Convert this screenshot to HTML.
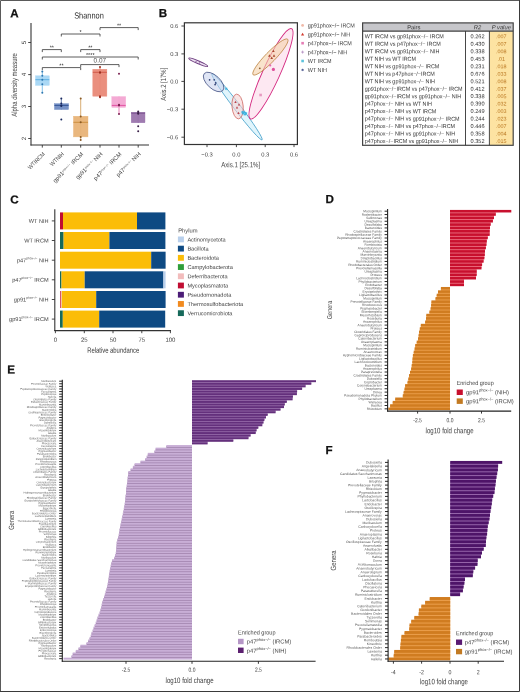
<!DOCTYPE html>
<html><head><meta charset="utf-8"><style>html,body{margin:0;padding:0;background:#fff;width:520px;height:692px;overflow:hidden}svg{display:block;will-change:transform}</style></head><body>
<svg width="520" height="692" viewBox="0 0 520 692" text-rendering="geometricPrecision" font-family='"Liberation Sans", sans-serif'>
<rect x="0.00" y="0.00" width="520.00" height="692.00" fill="#fff" />
<text x="10.20" y="17.20" font-size="11.6" fill="#111" text-anchor="start" font-weight="bold" transform="rotate(0.05 10.20 17.20)" stroke="#111" stroke-width="0.25">A</text>
<text x="158.70" y="17.00" font-size="11.6" fill="#111" text-anchor="start" font-weight="bold" transform="rotate(0.05 158.70 17.00)" stroke="#111" stroke-width="0.25">B</text>
<text x="10.20" y="203.40" font-size="11.6" fill="#111" text-anchor="start" font-weight="bold" transform="rotate(0.05 10.20 203.40)" stroke="#111" stroke-width="0.25">C</text>
<text x="325.60" y="203.00" font-size="11.6" fill="#111" text-anchor="start" font-weight="bold" transform="rotate(0.05 325.60 203.00)" stroke="#111" stroke-width="0.25">D</text>
<text x="7.30" y="373.60" font-size="11.6" fill="#111" text-anchor="start" font-weight="bold" transform="rotate(0.05 7.30 373.60)" stroke="#111" stroke-width="0.25">E</text>
<text x="325.50" y="453.90" font-size="11.6" fill="#111" text-anchor="start" font-weight="bold" transform="rotate(0.05 325.50 453.90)" stroke="#111" stroke-width="0.25">F</text>
<line x1="31.00" y1="23.00" x2="31.00" y2="145.50" stroke="#333" stroke-width="1.1" />
<line x1="30.50" y1="145.00" x2="149.00" y2="145.00" stroke="#333" stroke-width="1.1" />
<line x1="28.20" y1="42.50" x2="31.00" y2="42.50" stroke="#333" stroke-width="0.9" />
<text x="25.70" y="42.50" font-size="6.2" fill="#444" text-anchor="middle" transform="rotate(-90 25.70 42.50)" >5</text>
<line x1="28.20" y1="74.60" x2="31.00" y2="74.60" stroke="#333" stroke-width="0.9" />
<text x="25.70" y="74.60" font-size="6.2" fill="#444" text-anchor="middle" transform="rotate(-90 25.70 74.60)" >4</text>
<line x1="28.20" y1="106.50" x2="31.00" y2="106.50" stroke="#333" stroke-width="0.9" />
<text x="25.70" y="106.50" font-size="6.2" fill="#444" text-anchor="middle" transform="rotate(-90 25.70 106.50)" >3</text>
<line x1="28.20" y1="138.50" x2="31.00" y2="138.50" stroke="#333" stroke-width="0.9" />
<text x="25.70" y="138.50" font-size="6.2" fill="#444" text-anchor="middle" transform="rotate(-90 25.70 138.50)" >2</text>
<text x="74.20" y="18.60" font-size="8.8" fill="#2a2a2a" text-anchor="start" textLength="29.6" lengthAdjust="spacingAndGlyphs" transform="rotate(0.05 74.20 18.60)" >Shannon</text>
<text x="17.30" y="85.00" font-size="7.8" fill="#444" text-anchor="middle" textLength="63.5" lengthAdjust="spacingAndGlyphs" transform="rotate(-90 17.30 85.00)" >Alpha diversity measure</text>
<line x1="42.30" y1="145.00" x2="42.30" y2="147.60" stroke="#333" stroke-width="0.9" />
<line x1="61.30" y1="145.00" x2="61.30" y2="147.60" stroke="#333" stroke-width="0.9" />
<line x1="80.70" y1="145.00" x2="80.70" y2="147.60" stroke="#333" stroke-width="0.9" />
<line x1="100.00" y1="145.00" x2="100.00" y2="147.60" stroke="#333" stroke-width="0.9" />
<line x1="119.00" y1="145.00" x2="119.00" y2="147.60" stroke="#333" stroke-width="0.9" />
<line x1="138.20" y1="145.00" x2="138.20" y2="147.60" stroke="#333" stroke-width="0.9" />
<text x="45.30" y="154.50" font-size="5.8" fill="#444" text-anchor="end" textLength="21.45" lengthAdjust="spacingAndGlyphs" transform="rotate(-45 45.30 154.50)" >WTIRCM</text>
<text x="64.30" y="154.50" font-size="5.8" fill="#444" text-anchor="end" textLength="17.11" lengthAdjust="spacingAndGlyphs" transform="rotate(-45 64.30 154.50)" >WTNIH</text>
<text x="83.70" y="154.50" font-size="5.8" fill="#444" text-anchor="end" transform="rotate(-45 83.70 154.50)" >gp91<tspan font-size="3" dy="-2">phox−/−</tspan><tspan dy="2"> IRCM</tspan></text>
<text x="103.00" y="154.50" font-size="5.8" fill="#444" text-anchor="end" transform="rotate(-45 103.00 154.50)" >gp91<tspan font-size="3" dy="-2">phox−/−</tspan><tspan dy="2"> NIH</tspan></text>
<text x="122.00" y="154.50" font-size="5.8" fill="#444" text-anchor="end" transform="rotate(-45 122.00 154.50)" >p47<tspan font-size="3" dy="-2">phox−/−</tspan><tspan dy="2"> IRCM</tspan></text>
<text x="141.20" y="154.50" font-size="5.8" fill="#444" text-anchor="end" transform="rotate(-45 141.20 154.50)" >p47<tspan font-size="3" dy="-2">phox−/−</tspan><tspan dy="2"> NIH</tspan></text>
<line x1="42.30" y1="71.50" x2="42.30" y2="92.80" stroke="#52a9e0" stroke-width="0.7" />
<rect x="35.40" y="75.80" width="13.90" height="9.60" fill="#a6d6f5" stroke="#a6d6f5" stroke-width="0.4" opacity="0.95"/>
<line x1="35.40" y1="79.70" x2="49.30" y2="79.70" stroke="#52a9e0" stroke-width="0.9" />
<circle cx="42.30" cy="71.50" r="1.0" fill="#2f78b0"/>
<circle cx="42.30" cy="75.80" r="1.0" fill="#2f78b0"/>
<circle cx="42.30" cy="79.70" r="1.0" fill="#2f78b0"/>
<circle cx="42.30" cy="84.30" r="1.0" fill="#2f78b0"/>
<circle cx="42.30" cy="92.80" r="1.0" fill="#2f78b0"/>
<line x1="61.30" y1="98.40" x2="61.30" y2="109.60" stroke="#2f4f90" stroke-width="0.7" />
<rect x="54.40" y="103.60" width="14.20" height="6.00" fill="#6f8cc4" stroke="#6f8cc4" stroke-width="0.4" opacity="0.95"/>
<line x1="54.40" y1="105.40" x2="68.60" y2="105.40" stroke="#2f4f90" stroke-width="0.9" />
<circle cx="61.30" cy="98.40" r="1.0" fill="#1a2a60"/>
<circle cx="61.30" cy="103.60" r="1.0" fill="#1a2a60"/>
<circle cx="61.30" cy="105.40" r="1.0" fill="#1a2a60"/>
<circle cx="61.30" cy="105.90" r="1.0" fill="#1a2a60"/>
<circle cx="61.30" cy="119.50" r="1.0" fill="#1a2a60"/>
<line x1="80.70" y1="98.50" x2="80.70" y2="140.00" stroke="#c98a3a" stroke-width="0.7" />
<rect x="73.40" y="116.20" width="14.60" height="20.70" fill="#e8b478" stroke="#e8b478" stroke-width="0.4" opacity="0.95"/>
<line x1="73.40" y1="122.30" x2="88.00" y2="122.30" stroke="#c98a3a" stroke-width="0.9" />
<circle cx="80.70" cy="98.50" r="1.0" fill="#8a5a24"/>
<circle cx="80.70" cy="116.50" r="1.0" fill="#8a5a24"/>
<circle cx="80.70" cy="122.30" r="1.0" fill="#8a5a24"/>
<circle cx="80.70" cy="136.90" r="1.0" fill="#8a5a24"/>
<circle cx="80.70" cy="140.00" r="1.0" fill="#8a5a24"/>
<line x1="100.00" y1="67.00" x2="100.00" y2="97.20" stroke="#cf5545" stroke-width="0.7" />
<rect x="92.80" y="69.20" width="14.10" height="27.00" fill="#e98a78" stroke="#e98a78" stroke-width="0.4" opacity="0.95"/>
<line x1="92.80" y1="72.30" x2="106.90" y2="72.30" stroke="#cf5545" stroke-width="0.9" />
<circle cx="100.00" cy="67.00" r="1.0" fill="#9a3020"/>
<circle cx="100.00" cy="72.30" r="1.0" fill="#9a3020"/>
<circle cx="100.00" cy="72.80" r="1.0" fill="#9a3020"/>
<circle cx="100.00" cy="96.20" r="1.0" fill="#9a3020"/>
<circle cx="100.00" cy="97.20" r="1.0" fill="#9a3020"/>
<line x1="119.00" y1="96.60" x2="119.00" y2="114.00" stroke="#e0489c" stroke-width="0.7" />
<rect x="111.80" y="96.60" width="13.90" height="10.80" fill="#f4a6d2" stroke="#f4a6d2" stroke-width="0.4" opacity="0.95"/>
<line x1="111.80" y1="105.40" x2="125.70" y2="105.40" stroke="#e0489c" stroke-width="0.9" />
<circle cx="119.00" cy="73.80" r="1.0" fill="#7a2050"/>
<circle cx="119.00" cy="104.80" r="1.0" fill="#7a2050"/>
<circle cx="119.00" cy="105.40" r="1.0" fill="#7a2050"/>
<circle cx="119.00" cy="114.00" r="1.0" fill="#7a2050"/>
<line x1="138.20" y1="111.00" x2="138.20" y2="122.80" stroke="#6a3c80" stroke-width="0.7" />
<rect x="131.20" y="112.60" width="13.80" height="10.20" fill="#9a74ac" stroke="#9a74ac" stroke-width="0.4" opacity="0.95"/>
<line x1="131.20" y1="113.00" x2="145.00" y2="113.00" stroke="#6a3c80" stroke-width="0.9" />
<circle cx="138.20" cy="111.50" r="1.0" fill="#3a2048"/>
<circle cx="138.20" cy="113.00" r="1.0" fill="#3a2048"/>
<circle cx="138.20" cy="113.80" r="1.0" fill="#3a2048"/>
<circle cx="138.20" cy="126.30" r="1.0" fill="#3a2048"/>
<circle cx="138.20" cy="131.20" r="1.0" fill="#3a2048"/>
<path d="M100.00 30.10V27.60H138.20V30.10" fill="none" stroke="#333" stroke-width="0.8"/>
<text x="119.10" y="27.30" font-size="5.5" fill="#222" text-anchor="middle" transform="rotate(0.05 119.10 27.30)" >**</text>
<path d="M61.30 36.50V34.00H100.00V36.50" fill="none" stroke="#333" stroke-width="0.8"/>
<text x="80.65" y="33.70" font-size="5.5" fill="#222" text-anchor="middle" transform="rotate(0.05 80.65 33.70)" >*</text>
<path d="M42.30 52.10V49.60H61.30V52.10" fill="none" stroke="#333" stroke-width="0.8"/>
<text x="51.80" y="49.30" font-size="5.5" fill="#222" text-anchor="middle" transform="rotate(0.05 51.80 49.30)" >**</text>
<path d="M80.70 52.10V49.60H100.00V52.10" fill="none" stroke="#333" stroke-width="0.8"/>
<text x="90.35" y="49.30" font-size="5.5" fill="#222" text-anchor="middle" transform="rotate(0.05 90.35 49.30)" >**</text>
<path d="M42.30 59.50V57.00H138.20V59.50" fill="none" stroke="#333" stroke-width="0.8"/>
<text x="90.25" y="56.70" font-size="5.5" fill="#222" text-anchor="middle" transform="rotate(0.05 90.25 56.70)" >****</text>
<path d="M80.70 67.10V64.60H119.00V67.10" fill="none" stroke="#333" stroke-width="0.8"/>
<text x="99.85" y="62.60" font-size="6.4" fill="#555" text-anchor="middle" transform="rotate(0.05 99.85 62.60)" >0.07</text>
<path d="M42.30 70.10V67.60H80.70V70.10" fill="none" stroke="#333" stroke-width="0.8"/>
<text x="61.50" y="67.30" font-size="5.5" fill="#222" text-anchor="middle" transform="rotate(0.05 61.50 67.30)" >**</text>
<rect x="184.4" y="22.8" width="112.99999999999997" height="121.7" fill="none" stroke="#333" stroke-width="1.2"/>
<line x1="181.40" y1="26.00" x2="184.40" y2="26.00" stroke="#333" stroke-width="0.9" />
<text x="178.20" y="28.10" font-size="5.8" fill="#444" text-anchor="end" transform="rotate(0.05 178.20 28.10)" >0.6</text>
<line x1="181.40" y1="53.90" x2="184.40" y2="53.90" stroke="#333" stroke-width="0.9" />
<text x="178.20" y="56.00" font-size="5.8" fill="#444" text-anchor="end" transform="rotate(0.05 178.20 56.00)" >0.3</text>
<line x1="181.40" y1="81.40" x2="184.40" y2="81.40" stroke="#333" stroke-width="0.9" />
<text x="178.20" y="83.50" font-size="5.8" fill="#444" text-anchor="end" transform="rotate(0.05 178.20 83.50)" >0.0</text>
<line x1="181.40" y1="109.20" x2="184.40" y2="109.20" stroke="#333" stroke-width="0.9" />
<text x="178.20" y="111.30" font-size="5.8" fill="#444" text-anchor="end" transform="rotate(0.05 178.20 111.30)" >−0.3</text>
<line x1="181.40" y1="137.20" x2="184.40" y2="137.20" stroke="#333" stroke-width="0.9" />
<text x="178.20" y="139.30" font-size="5.8" fill="#444" text-anchor="end" transform="rotate(0.05 178.20 139.30)" >−0.6</text>
<line x1="207.00" y1="144.50" x2="207.00" y2="147.10" stroke="#333" stroke-width="0.9" />
<text x="207.00" y="156.60" font-size="5.8" fill="#444" text-anchor="middle" transform="rotate(0.05 207.00 156.60)" >−0.3</text>
<line x1="236.40" y1="144.50" x2="236.40" y2="147.10" stroke="#333" stroke-width="0.9" />
<text x="236.40" y="156.60" font-size="5.8" fill="#444" text-anchor="middle" transform="rotate(0.05 236.40 156.60)" >0.0</text>
<line x1="265.20" y1="144.50" x2="265.20" y2="147.10" stroke="#333" stroke-width="0.9" />
<text x="265.20" y="156.60" font-size="5.8" fill="#444" text-anchor="middle" transform="rotate(0.05 265.20 156.60)" >0.3</text>
<line x1="294.00" y1="144.50" x2="294.00" y2="147.10" stroke="#333" stroke-width="0.9" />
<text x="294.00" y="156.60" font-size="5.8" fill="#444" text-anchor="middle" transform="rotate(0.05 294.00 156.60)" >0.6</text>
<text x="240.70" y="167.20" font-size="7.6" fill="#444" text-anchor="middle" textLength="39" lengthAdjust="spacingAndGlyphs" transform="rotate(0.05 240.70 167.20)" >Axis.1 [25.1%]</text>
<text x="166.00" y="84.20" font-size="7.6" fill="#444" text-anchor="middle" textLength="33" lengthAdjust="spacingAndGlyphs" transform="rotate(-90 166.00 84.20)" >Axis.2 [17%]</text>
<ellipse cx="237.0" cy="106.8" rx="41.5" ry="3.3" transform="rotate(52.8 237.0 106.8)" fill="#cdeefa" fill-opacity="0.6" stroke="#4aa3cc" stroke-width="0.8"/>
<ellipse cx="271.0" cy="73.8" rx="49.6" ry="8.6" transform="rotate(-65.5 271.0 73.8)" fill="#fbd8ea" fill-opacity="0.6" stroke="#d42a80" stroke-width="0.9"/>
<ellipse cx="270.4" cy="57.0" rx="24.8" ry="5.0" transform="rotate(-45.8 270.4 57.0)" fill="#f5d2aa" fill-opacity="0.6" stroke="#c08a4a" stroke-width="0.8"/>
<ellipse cx="213.6" cy="82.0" rx="12.6" ry="6.5" transform="rotate(42.6 213.6 82.0)" fill="#cad3ee" fill-opacity="0.6" stroke="#4a5888" stroke-width="0.8"/>
<ellipse cx="237.6" cy="106.5" rx="12.4" ry="5.6" transform="rotate(85.0 237.6 106.5)" fill="#f6d4d4" fill-opacity="0.6" stroke="#cf6a66" stroke-width="0.8"/>
<ellipse cx="198.2" cy="62.3" rx="10.3" ry="1.4" transform="rotate(23.3 198.2 62.3)" fill="#e0cce8" fill-opacity="0.6" stroke="#6e3e80" stroke-width="1.05"/>
<path d="M195.4 61.6H196.6M196 61.0V62.2" stroke="#8a5a98" stroke-width="0.6"/>
<path d="M198.9 63.0H200.1M199.5 62.4V63.6" stroke="#8a5a98" stroke-width="0.6"/>
<circle cx="209.6" cy="79.8" r="0.85" fill="#2d3c70"/>
<circle cx="214.2" cy="79.8" r="0.85" fill="#2d3c70"/>
<circle cx="215.7" cy="82.9" r="0.85" fill="#2d3c70"/>
<circle cx="215.1" cy="84.6" r="0.85" fill="#2d3c70"/>
<path d="M224.89999999999998 88.8H227.5M226.2 87.5V90.1M225.29 87.89L227.10999999999999 89.71M225.29 89.71L227.10999999999999 87.89" stroke="#34aede" stroke-width="0.6"/>
<path d="M241.7 113.5H244.3M243.0 112.2V114.8M242.09 112.59L243.91 114.41M242.09 114.41L243.91 112.59" stroke="#34aede" stroke-width="0.6"/>
<path d="M243.7 114.5H246.3M245.0 113.2V115.8M244.09 113.59L245.91 115.41M244.09 115.41L245.91 113.59" stroke="#34aede" stroke-width="0.6"/>
<path d="M242.89999999999998 112.4H245.5M244.2 111.10000000000001V113.7M243.29 111.49000000000001L245.10999999999999 113.31M243.29 113.31L245.10999999999999 111.49000000000001" stroke="#34aede" stroke-width="0.6"/>
<path d="M244.7 113.2H247.3M246.0 111.9V114.5M245.09 112.29L246.91 114.11M245.09 114.11L246.91 112.29" stroke="#34aede" stroke-width="0.6"/>
<path d="M241.2 112.0H243.8M242.5 110.7V113.3M241.59 111.09L243.41 112.91M241.59 112.91L243.41 111.09" stroke="#34aede" stroke-width="0.6"/>
<path d="M235.5 100.8L236.7 102.96H234.3Z" fill="#b8404a"/>
<path d="M239.0 103.3L240.2 105.46H237.8Z" fill="#b8404a"/>
<path d="M237.0 106.3L238.2 108.46H235.8Z" fill="#b8404a"/>
<path d="M238.5 111.8L239.7 113.96H237.3Z" fill="#b8404a"/>
<path d="M273.4 49.7L274.7 52.04H272.09999999999997Z" fill="#a8452a"/>
<path d="M269.4 54.300000000000004L270.7 56.64H268.09999999999997Z" fill="#a8452a"/>
<path d="M274.0 54.300000000000004L275.3 56.64H272.7Z" fill="#a8452a"/>
<path d="M271.7 56.6L273.0 58.94H270.4Z" fill="#a8452a"/>
<circle cx="259.8" cy="68.3" r="0.9" fill="#8a5a30"/>
<circle cx="273.4" cy="69.4" r="1.6" fill="#de4f9a"/>
<rect x="259.3" y="93.7" width="2.6" height="2.6" fill="#e69ac0"/>
<circle cx="270.2" cy="65.4" r="1.1" fill="#e46aa8"/>
<circle cx="302.6" cy="25.4" r="1.4" fill="#f0b9a8"/>
<text x="307.80" y="27.50" font-size="6.0" fill="#3a3a3a" text-anchor="start" textLength="46.99" lengthAdjust="spacingAndGlyphs" transform="rotate(0.05 307.80 27.50)" >gp91phox−/− IRCM</text>
<path d="M302.6 32.699999999999996L304.20000000000005 35.58H301.0Z" fill="#d23a2e"/>
<text x="307.80" y="36.40" font-size="6.0" fill="#3a3a3a" text-anchor="start" textLength="42.47" lengthAdjust="spacingAndGlyphs" transform="rotate(0.05 307.80 36.40)" >gp91phox−/− NIH</text>
<rect x="301.3" y="41.900000000000006" width="2.6" height="2.6" fill="#e57db5"/>
<text x="307.80" y="45.30" font-size="6.0" fill="#3a3a3a" text-anchor="start" textLength="43.97" lengthAdjust="spacingAndGlyphs" transform="rotate(0.05 307.80 45.30)" >p47phox−/− IRCM</text>
<path d="M301.1 52.1H304.1M302.6 50.6V53.6" stroke="#a070b0" stroke-width="0.6"/>
<text x="307.80" y="54.20" font-size="6.0" fill="#3a3a3a" text-anchor="start" textLength="39.46" lengthAdjust="spacingAndGlyphs" transform="rotate(0.05 307.80 54.20)" >p47phox−/− NIH</text>
<rect x="301.3" y="59.7" width="2.6" height="2.6" fill="#5cc3dc"/>
<text x="307.80" y="63.10" font-size="6.0" fill="#3a3a3a" text-anchor="start" textLength="23.67" lengthAdjust="spacingAndGlyphs" transform="rotate(0.05 307.80 63.10)" >WT IRCM</text>
<path d="M301.40000000000003 69.9H303.8M302.6 68.7V71.10000000000001M301.76000000000005 69.06L303.44 70.74000000000001M301.76000000000005 70.74000000000001L303.44 69.06" stroke="#3b4a86" stroke-width="0.6"/>
<text x="307.80" y="72.00" font-size="6.0" fill="#3a3a3a" text-anchor="start" textLength="19.16" lengthAdjust="spacingAndGlyphs" transform="rotate(0.05 307.80 72.00)" >WT NIH</text>
<rect x="362.60" y="22.90" width="150.60" height="8.40" fill="#c6c6ca" />
<rect x="489.60" y="31.30" width="23.60" height="114.00" fill="#fde3a2" />
<rect x="362.6" y="22.9" width="150.60000000000002" height="122.4" fill="none" stroke="#444" stroke-width="1.2"/>
<line x1="362.60" y1="31.10" x2="513.20" y2="31.10" stroke="#444" stroke-width="1.1" />
<line x1="465.50" y1="31.10" x2="465.50" y2="145.30" stroke="#333" stroke-width="0.9" />
<line x1="489.40" y1="31.10" x2="489.40" y2="145.30" stroke="#333" stroke-width="0.9" />
<text x="413.80" y="29.30" font-size="5.8" fill="#333" text-anchor="middle" transform="rotate(0.05 413.80 29.30)" >Pairs</text>
<text x="477.50" y="29.30" font-size="5.8" fill="#333" text-anchor="middle" transform="rotate(0.05 477.50 29.30)" font-style="italic">R2</text>
<text x="501.30" y="29.30" font-size="5.8" fill="#333" text-anchor="middle" transform="rotate(0.05 501.30 29.30)" font-style="italic">P value</text>
<text x="364.80" y="38.30" font-size="5.7" fill="#333" text-anchor="start" textLength="79.04" lengthAdjust="spacingAndGlyphs" transform="rotate(0.05 364.80 38.30)" >WT IRCM vs gp91phox−/− IRCM</text>
<text x="477.60" y="38.30" font-size="5.6" fill="#333" text-anchor="middle" transform="rotate(0.05 477.60 38.30)" >0.262</text>
<text x="501.30" y="38.30" font-size="5.4" fill="#b8741e" text-anchor="middle" transform="rotate(0.05 501.30 38.30)" >.007</text>
<text x="364.80" y="45.78" font-size="5.7" fill="#333" text-anchor="start" textLength="76.03" lengthAdjust="spacingAndGlyphs" transform="rotate(0.05 364.80 45.78)" >WT IRCM vs p47phox−/− IRCM</text>
<text x="477.60" y="45.78" font-size="5.6" fill="#333" text-anchor="middle" transform="rotate(0.05 477.60 45.78)" >0.430</text>
<text x="501.30" y="45.78" font-size="5.4" fill="#b8741e" text-anchor="middle" transform="rotate(0.05 501.30 45.78)" >.007</text>
<text x="364.80" y="53.26" font-size="5.7" fill="#333" text-anchor="start" textLength="74.53" lengthAdjust="spacingAndGlyphs" transform="rotate(0.05 364.80 53.26)" >WT IRCM vs gp91phox−/− NIH</text>
<text x="477.60" y="53.26" font-size="5.6" fill="#333" text-anchor="middle" transform="rotate(0.05 477.60 53.26)" >0.338</text>
<text x="501.30" y="53.26" font-size="5.4" fill="#b8741e" text-anchor="middle" transform="rotate(0.05 501.30 53.26)" >.008</text>
<text x="364.80" y="60.74" font-size="5.7" fill="#333" text-anchor="start" textLength="51.24" lengthAdjust="spacingAndGlyphs" transform="rotate(0.05 364.80 60.74)" >WT NIH vs WT IRCM</text>
<text x="477.60" y="60.74" font-size="5.6" fill="#333" text-anchor="middle" transform="rotate(0.05 477.60 60.74)" >0.453</text>
<text x="501.30" y="60.74" font-size="5.4" fill="#b8741e" text-anchor="middle" transform="rotate(0.05 501.30 60.74)" >.01</text>
<text x="364.80" y="68.22" font-size="5.7" fill="#333" text-anchor="start" textLength="74.53" lengthAdjust="spacingAndGlyphs" transform="rotate(0.05 364.80 68.22)" >WT NIH vs gp91phox−/− IRCM</text>
<text x="477.60" y="68.22" font-size="5.6" fill="#333" text-anchor="middle" transform="rotate(0.05 477.60 68.22)" >0.231</text>
<text x="501.30" y="68.22" font-size="5.4" fill="#b8741e" text-anchor="middle" transform="rotate(0.05 501.30 68.22)" >.018</text>
<text x="364.80" y="75.70" font-size="5.7" fill="#333" text-anchor="start" textLength="70.02" lengthAdjust="spacingAndGlyphs" transform="rotate(0.05 364.80 75.70)" >WT NIH vs p47phox−/−IRCM</text>
<text x="477.60" y="75.70" font-size="5.6" fill="#333" text-anchor="middle" transform="rotate(0.05 477.60 75.70)" >0.676</text>
<text x="501.30" y="75.70" font-size="5.4" fill="#b8741e" text-anchor="middle" transform="rotate(0.05 501.30 75.70)" >.033</text>
<text x="364.80" y="83.18" font-size="5.7" fill="#333" text-anchor="start" textLength="70.02" lengthAdjust="spacingAndGlyphs" transform="rotate(0.05 364.80 83.18)" >WT NIH vs gp91phox−/− NIH</text>
<text x="477.60" y="83.18" font-size="5.6" fill="#333" text-anchor="middle" transform="rotate(0.05 477.60 83.18)" >0.521</text>
<text x="501.30" y="83.18" font-size="5.4" fill="#b8741e" text-anchor="middle" transform="rotate(0.05 501.30 83.18)" >.008</text>
<text x="364.80" y="90.66" font-size="5.7" fill="#333" text-anchor="start" textLength="97.83" lengthAdjust="spacingAndGlyphs" transform="rotate(0.05 364.80 90.66)" >gp91phox−/−IRCM vs p47phox−/− IRCM</text>
<text x="477.60" y="90.66" font-size="5.6" fill="#333" text-anchor="middle" transform="rotate(0.05 477.60 90.66)" >0.412</text>
<text x="501.30" y="90.66" font-size="5.4" fill="#b8741e" text-anchor="middle" transform="rotate(0.05 501.30 90.66)" >.037</text>
<text x="364.80" y="98.14" font-size="5.7" fill="#333" text-anchor="start" textLength="96.33" lengthAdjust="spacingAndGlyphs" transform="rotate(0.05 364.80 98.14)" >gp91phox−/−IRCM vs gp91phox−/− NIH</text>
<text x="477.60" y="98.14" font-size="5.6" fill="#333" text-anchor="middle" transform="rotate(0.05 477.60 98.14)" >0.338</text>
<text x="501.30" y="98.14" font-size="5.4" fill="#b8741e" text-anchor="middle" transform="rotate(0.05 501.30 98.14)" >.005</text>
<text x="364.80" y="105.62" font-size="5.7" fill="#333" text-anchor="start" textLength="67.01" lengthAdjust="spacingAndGlyphs" transform="rotate(0.05 364.80 105.62)" >p47phox−/− NIH vs WT NIH</text>
<text x="477.60" y="105.62" font-size="5.6" fill="#333" text-anchor="middle" transform="rotate(0.05 477.60 105.62)" >0.390</text>
<text x="501.30" y="105.62" font-size="5.4" fill="#b8741e" text-anchor="middle" transform="rotate(0.05 501.30 105.62)" >.032</text>
<text x="364.80" y="113.10" font-size="5.7" fill="#333" text-anchor="start" textLength="71.52" lengthAdjust="spacingAndGlyphs" transform="rotate(0.05 364.80 113.10)" >p47phox−/− NIH vs WT IRCM</text>
<text x="477.60" y="113.10" font-size="5.6" fill="#333" text-anchor="middle" transform="rotate(0.05 477.60 113.10)" >0.249</text>
<text x="501.30" y="113.10" font-size="5.4" fill="#b8741e" text-anchor="middle" transform="rotate(0.05 501.30 113.10)" >.003</text>
<text x="364.80" y="120.58" font-size="5.7" fill="#333" text-anchor="start" textLength="94.82" lengthAdjust="spacingAndGlyphs" transform="rotate(0.05 364.80 120.58)" >p47phox−/− NIH vs gp91phox−/− IRCM</text>
<text x="477.60" y="120.58" font-size="5.6" fill="#333" text-anchor="middle" transform="rotate(0.05 477.60 120.58)" >0.244</text>
<text x="501.30" y="120.58" font-size="5.4" fill="#b8741e" text-anchor="middle" transform="rotate(0.05 501.30 120.58)" >.023</text>
<text x="364.80" y="128.06" font-size="5.7" fill="#333" text-anchor="start" textLength="90.3" lengthAdjust="spacingAndGlyphs" transform="rotate(0.05 364.80 128.06)" >p47phox−/− NIH vs p47phox−/−IRCM</text>
<text x="477.60" y="128.06" font-size="5.6" fill="#333" text-anchor="middle" transform="rotate(0.05 477.60 128.06)" >0.446</text>
<text x="501.30" y="128.06" font-size="5.4" fill="#b8741e" text-anchor="middle" transform="rotate(0.05 501.30 128.06)" >.007</text>
<text x="364.80" y="135.54" font-size="5.7" fill="#333" text-anchor="start" textLength="90.31" lengthAdjust="spacingAndGlyphs" transform="rotate(0.05 364.80 135.54)" >p47phox−/− NIH vs gp91phox−/− NIH</text>
<text x="477.60" y="135.54" font-size="5.6" fill="#333" text-anchor="middle" transform="rotate(0.05 477.60 135.54)" >0.358</text>
<text x="501.30" y="135.54" font-size="5.4" fill="#b8741e" text-anchor="middle" transform="rotate(0.05 501.30 135.54)" >.004</text>
<text x="364.80" y="143.02" font-size="5.7" fill="#333" text-anchor="start" textLength="93.31" lengthAdjust="spacingAndGlyphs" transform="rotate(0.05 364.80 143.02)" >p47phox−/−IRCM vs gp91phox−/− NIH</text>
<text x="477.60" y="143.02" font-size="5.6" fill="#333" text-anchor="middle" transform="rotate(0.05 477.60 143.02)" >0.352</text>
<text x="501.30" y="143.02" font-size="5.4" fill="#b8741e" text-anchor="middle" transform="rotate(0.05 501.30 143.02)" >.015</text>
<line x1="54.80" y1="209.20" x2="54.80" y2="331.00" stroke="#333" stroke-width="1.1" />
<line x1="54.30" y1="330.60" x2="171.00" y2="330.60" stroke="#333" stroke-width="1.1" />
<line x1="55.40" y1="330.60" x2="55.40" y2="333.20" stroke="#333" stroke-width="0.9" />
<text x="55.40" y="341.70" font-size="6.0" fill="#444" text-anchor="middle" transform="rotate(0.05 55.40 341.70)" >0</text>
<line x1="84.30" y1="330.60" x2="84.30" y2="333.20" stroke="#333" stroke-width="0.9" />
<text x="84.30" y="341.70" font-size="6.0" fill="#444" text-anchor="middle" transform="rotate(0.05 84.30 341.70)" >25</text>
<line x1="113.00" y1="330.60" x2="113.00" y2="333.20" stroke="#333" stroke-width="0.9" />
<text x="113.00" y="341.70" font-size="6.0" fill="#444" text-anchor="middle" transform="rotate(0.05 113.00 341.70)" >50</text>
<line x1="141.80" y1="330.60" x2="141.80" y2="333.20" stroke="#333" stroke-width="0.9" />
<text x="141.80" y="341.70" font-size="6.0" fill="#444" text-anchor="middle" transform="rotate(0.05 141.80 341.70)" >75</text>
<line x1="170.40" y1="330.60" x2="170.40" y2="333.20" stroke="#333" stroke-width="0.9" />
<text x="170.40" y="341.70" font-size="6.0" fill="#444" text-anchor="middle" transform="rotate(0.05 170.40 341.70)" >100</text>
<text x="113.20" y="352.80" font-size="7.6" fill="#333" text-anchor="middle" textLength="52" lengthAdjust="spacingAndGlyphs" transform="rotate(0.05 113.20 352.80)" >Relative abundance</text>
<rect x="60.00" y="212.40" width="3.00" height="17.00" fill="#c00d32" />
<rect x="63.00" y="212.40" width="74.00" height="17.00" fill="#fbbd08" />
<rect x="137.00" y="212.40" width="28.40" height="17.00" fill="#0e4a83" />
<line x1="51.80" y1="220.90" x2="54.80" y2="220.90" stroke="#333" stroke-width="0.9" />
<text x="48.60" y="222.90" font-size="5.6" fill="#444" text-anchor="end" transform="rotate(0.05 48.60 222.90)" >WT NIH</text>
<rect x="60.00" y="232.00" width="3.60" height="17.00" fill="#16695a" />
<rect x="63.60" y="232.00" width="45.80" height="17.00" fill="#fbbd08" />
<rect x="109.40" y="232.00" width="56.00" height="17.00" fill="#0e4a83" />
<line x1="51.80" y1="240.50" x2="54.80" y2="240.50" stroke="#333" stroke-width="0.9" />
<text x="48.60" y="242.50" font-size="5.6" fill="#444" text-anchor="end" transform="rotate(0.05 48.60 242.50)" >WT IRCM</text>
<rect x="60.00" y="251.70" width="91.20" height="17.00" fill="#fbbd08" />
<rect x="151.20" y="251.70" width="14.40" height="17.00" fill="#0e4a83" />
<line x1="51.80" y1="260.20" x2="54.80" y2="260.20" stroke="#333" stroke-width="0.9" />
<text x="48.60" y="262.20" font-size="5.6" fill="#444" text-anchor="end" transform="rotate(0.05 48.60 262.20)" >p47<tspan font-size="3.1" dy="-2.8">phox−/−</tspan><tspan dy="2.8"> NIH</tspan></text>
<rect x="60.00" y="271.30" width="1.50" height="17.00" fill="#16695a" />
<rect x="61.50" y="271.30" width="23.20" height="17.00" fill="#fbbd08" />
<rect x="84.70" y="271.30" width="78.70" height="17.00" fill="#0e4a83" />
<rect x="163.40" y="271.30" width="2.20" height="17.00" fill="#b9d0ec" />
<line x1="51.80" y1="279.80" x2="54.80" y2="279.80" stroke="#333" stroke-width="0.9" />
<text x="48.60" y="281.80" font-size="5.6" fill="#444" text-anchor="end" transform="rotate(0.05 48.60 281.80)" >p47<tspan font-size="3.1" dy="-2.8">phox−/−</tspan><tspan dy="2.8"> IRCM</tspan></text>
<rect x="60.00" y="291.00" width="0.80" height="17.00" fill="#c00d32" />
<rect x="60.80" y="291.00" width="1.00" height="17.00" fill="#f2bcbc" />
<rect x="61.80" y="291.00" width="34.40" height="17.00" fill="#fbbd08" />
<rect x="96.20" y="291.00" width="69.40" height="17.00" fill="#0e4a83" />
<line x1="51.80" y1="299.50" x2="54.80" y2="299.50" stroke="#333" stroke-width="0.9" />
<text x="48.60" y="301.50" font-size="5.6" fill="#444" text-anchor="end" transform="rotate(0.05 48.60 301.50)" >gp91<tspan font-size="3.1" dy="-2.8">phox−/−</tspan><tspan dy="2.8"> NIH</tspan></text>
<rect x="60.00" y="310.60" width="2.80" height="17.00" fill="#16695a" />
<rect x="62.80" y="310.60" width="36.40" height="17.00" fill="#fbbd08" />
<rect x="99.20" y="310.60" width="66.00" height="17.00" fill="#0e4a83" />
<line x1="51.80" y1="319.10" x2="54.80" y2="319.10" stroke="#333" stroke-width="0.9" />
<text x="48.60" y="321.10" font-size="5.6" fill="#444" text-anchor="end" transform="rotate(0.05 48.60 321.10)" >gp91<tspan font-size="3.1" dy="-2.8">phox−/−</tspan><tspan dy="2.8"> IRCM</tspan></text>
<text x="178.20" y="232.40" font-size="5.8" fill="#444" text-anchor="start" transform="rotate(0.05 178.20 232.40)" >Phylum</text>
<rect x="177.90" y="236.50" width="6.00" height="5.80" fill="#b9d0ec" />
<text x="187.40" y="241.40" font-size="5.6" fill="#444" text-anchor="start" transform="rotate(0.05 187.40 241.40)" >Actinomycetota</text>
<rect x="177.90" y="245.72" width="6.00" height="5.80" fill="#0e4a83" />
<text x="187.40" y="250.62" font-size="5.6" fill="#444" text-anchor="start" transform="rotate(0.05 187.40 250.62)" >Bacillota</text>
<rect x="177.90" y="254.94" width="6.00" height="5.80" fill="#fbbd08" />
<text x="187.40" y="259.84" font-size="5.6" fill="#444" text-anchor="start" transform="rotate(0.05 187.40 259.84)" >Bacteroidota</text>
<rect x="177.90" y="264.16" width="6.00" height="5.80" fill="#2f9e3a" />
<text x="187.40" y="269.06" font-size="5.6" fill="#444" text-anchor="start" transform="rotate(0.05 187.40 269.06)" >Campylobacterota</text>
<rect x="177.90" y="273.38" width="6.00" height="5.80" fill="#f2bcbc" />
<text x="187.40" y="278.28" font-size="5.6" fill="#444" text-anchor="start" transform="rotate(0.05 187.40 278.28)" >Deferribacterota</text>
<rect x="177.90" y="282.60" width="6.00" height="5.80" fill="#c00d32" />
<text x="187.40" y="287.50" font-size="5.6" fill="#444" text-anchor="start" transform="rotate(0.05 187.40 287.50)" >Mycoplasmatota</text>
<rect x="177.90" y="291.82" width="6.00" height="5.80" fill="#4b1c77" />
<text x="187.40" y="296.72" font-size="5.6" fill="#444" text-anchor="start" transform="rotate(0.05 187.40 296.72)" >Pseudomonadota</text>
<rect x="177.90" y="301.04" width="6.00" height="5.80" fill="#f18a1f" />
<text x="187.40" y="305.94" font-size="5.6" fill="#444" text-anchor="start" transform="rotate(0.05 187.40 305.94)" >Thermosulfobacteriota</text>
<rect x="177.90" y="310.26" width="6.00" height="5.80" fill="#16695a" />
<text x="187.40" y="315.16" font-size="5.6" fill="#444" text-anchor="start" transform="rotate(0.05 187.40 315.16)" >Verrucomicrobiota</text>
<rect x="450.00" y="211.20" width="45.80" height="3.35" fill="#f07a8a" />
<rect x="450.00" y="214.55" width="44.00" height="3.35" fill="#f07a8a" />
<rect x="450.00" y="217.90" width="42.90" height="3.35" fill="#f07a8a" />
<rect x="450.00" y="221.25" width="40.70" height="3.35" fill="#f07a8a" />
<rect x="450.00" y="224.60" width="40.00" height="3.35" fill="#f07a8a" />
<rect x="450.00" y="227.95" width="39.70" height="3.35" fill="#f07a8a" />
<rect x="450.00" y="231.30" width="39.70" height="3.35" fill="#f07a8a" />
<rect x="450.00" y="234.65" width="37.80" height="3.35" fill="#f07a8a" />
<rect x="450.00" y="238.00" width="36.80" height="3.35" fill="#f07a8a" />
<rect x="450.00" y="241.35" width="36.50" height="3.35" fill="#f07a8a" />
<rect x="450.00" y="244.70" width="35.90" height="3.35" fill="#f07a8a" />
<rect x="450.00" y="248.05" width="35.00" height="3.35" fill="#f07a8a" />
<rect x="450.00" y="251.40" width="34.80" height="3.35" fill="#f07a8a" />
<rect x="450.00" y="254.75" width="34.40" height="3.35" fill="#f07a8a" />
<rect x="450.00" y="258.10" width="33.60" height="3.35" fill="#f07a8a" />
<rect x="450.00" y="261.45" width="32.10" height="3.35" fill="#f07a8a" />
<rect x="450.00" y="264.80" width="31.50" height="3.35" fill="#f07a8a" />
<rect x="450.00" y="268.15" width="26.70" height="3.35" fill="#f07a8a" />
<rect x="450.00" y="271.50" width="26.70" height="3.35" fill="#f07a8a" />
<rect x="450.00" y="274.85" width="26.00" height="3.35" fill="#f07a8a" />
<rect x="450.00" y="278.20" width="14.00" height="3.35" fill="#f07a8a" />
<rect x="450.00" y="281.55" width="14.00" height="3.35" fill="#f07a8a" />
<rect x="440.90" y="288.25" width="9.10" height="3.35" fill="#efa452" />
<rect x="438.00" y="291.60" width="12.00" height="3.35" fill="#efa452" />
<rect x="436.70" y="294.95" width="13.30" height="3.35" fill="#efa452" />
<rect x="435.50" y="298.30" width="14.50" height="3.35" fill="#efa452" />
<rect x="431.40" y="301.65" width="18.60" height="3.35" fill="#efa452" />
<rect x="431.10" y="305.00" width="18.90" height="3.35" fill="#efa452" />
<rect x="430.60" y="308.35" width="19.40" height="3.35" fill="#efa452" />
<rect x="429.40" y="311.70" width="20.60" height="3.35" fill="#efa452" />
<rect x="426.30" y="315.05" width="23.70" height="3.35" fill="#efa452" />
<rect x="426.00" y="318.40" width="24.00" height="3.35" fill="#efa452" />
<rect x="425.10" y="321.75" width="24.90" height="3.35" fill="#efa452" />
<rect x="420.80" y="325.10" width="29.20" height="3.35" fill="#efa452" />
<rect x="419.80" y="328.45" width="30.20" height="3.35" fill="#efa452" />
<rect x="419.00" y="331.80" width="31.00" height="3.35" fill="#efa452" />
<rect x="418.60" y="335.15" width="31.40" height="3.35" fill="#efa452" />
<rect x="418.00" y="338.50" width="32.00" height="3.35" fill="#efa452" />
<rect x="416.70" y="341.85" width="33.30" height="3.35" fill="#efa452" />
<rect x="415.20" y="345.20" width="34.80" height="3.35" fill="#efa452" />
<rect x="414.60" y="348.55" width="35.40" height="3.35" fill="#efa452" />
<rect x="413.70" y="351.90" width="36.30" height="3.35" fill="#efa452" />
<rect x="412.90" y="355.25" width="37.10" height="3.35" fill="#efa452" />
<rect x="412.50" y="358.60" width="37.50" height="3.35" fill="#efa452" />
<rect x="412.30" y="361.95" width="37.70" height="3.35" fill="#efa452" />
<rect x="411.70" y="365.30" width="38.30" height="3.35" fill="#efa452" />
<rect x="411.10" y="368.65" width="38.90" height="3.35" fill="#efa452" />
<rect x="410.00" y="372.00" width="40.00" height="3.35" fill="#efa452" />
<rect x="409.00" y="375.35" width="41.00" height="3.35" fill="#efa452" />
<rect x="408.30" y="378.70" width="41.70" height="3.35" fill="#efa452" />
<rect x="407.50" y="382.05" width="42.50" height="3.35" fill="#efa452" />
<rect x="405.10" y="385.40" width="44.90" height="3.35" fill="#efa452" />
<rect x="404.50" y="388.75" width="45.50" height="3.35" fill="#efa452" />
<rect x="403.60" y="392.10" width="46.40" height="3.35" fill="#efa452" />
<rect x="402.80" y="395.45" width="47.20" height="3.35" fill="#efa452" />
<rect x="395.20" y="398.80" width="54.80" height="3.35" fill="#efa452" />
<rect x="392.70" y="402.15" width="57.30" height="3.35" fill="#efa452" />
<rect x="390.10" y="405.50" width="59.90" height="3.35" fill="#efa452" />
<rect x="450.00" y="209.92" width="61.30" height="2.55" fill="#c8102e" />
<line x1="384.60" y1="211.20" x2="387.60" y2="211.20" stroke="#111" stroke-width="0.9" />
<text x="381.90" y="212.34" font-size="3.25" fill="#555" text-anchor="end" textLength="18.7" lengthAdjust="spacingAndGlyphs" transform="rotate(0.05 381.90 212.34)" >Mucispirillum</text>
<rect x="450.00" y="213.27" width="45.80" height="2.55" fill="#c8102e" />
<line x1="384.60" y1="214.55" x2="387.60" y2="214.55" stroke="#111" stroke-width="0.9" />
<text x="381.90" y="215.69" font-size="3.25" fill="#555" text-anchor="end" textLength="20.2" lengthAdjust="spacingAndGlyphs" transform="rotate(0.05 381.90 215.69)" >Rodentibacter</text>
<rect x="450.00" y="216.62" width="44.00" height="2.55" fill="#c8102e" />
<line x1="384.60" y1="217.90" x2="387.60" y2="217.90" stroke="#111" stroke-width="0.9" />
<text x="381.90" y="219.04" font-size="3.25" fill="#555" text-anchor="end" textLength="15.9" lengthAdjust="spacingAndGlyphs" transform="rotate(0.05 381.90 219.04)" >Sellimonas</text>
<rect x="450.00" y="219.97" width="42.90" height="2.55" fill="#c8102e" />
<line x1="384.60" y1="221.25" x2="387.60" y2="221.25" stroke="#111" stroke-width="0.9" />
<text x="381.90" y="222.39" font-size="3.25" fill="#555" text-anchor="end" textLength="17.5" lengthAdjust="spacingAndGlyphs" transform="rotate(0.05 381.90 222.39)" >Ureaplasma</text>
<rect x="450.00" y="223.32" width="40.70" height="2.55" fill="#c8102e" />
<line x1="384.60" y1="224.60" x2="387.60" y2="224.60" stroke="#111" stroke-width="0.9" />
<text x="381.90" y="225.74" font-size="3.25" fill="#555" text-anchor="end" textLength="17.5" lengthAdjust="spacingAndGlyphs" transform="rotate(0.05 381.90 225.74)" >Desulfofaba</text>
<rect x="450.00" y="226.67" width="40.00" height="2.55" fill="#c8102e" />
<line x1="384.60" y1="227.95" x2="387.60" y2="227.95" stroke="#111" stroke-width="0.9" />
<text x="381.90" y="229.09" font-size="3.25" fill="#555" text-anchor="end" textLength="17.1" lengthAdjust="spacingAndGlyphs" transform="rotate(0.05 381.90 229.09)" >Bacteroides</text>
<rect x="450.00" y="230.02" width="39.70" height="2.55" fill="#c8102e" />
<line x1="384.60" y1="231.30" x2="387.60" y2="231.30" stroke="#111" stroke-width="0.9" />
<text x="381.90" y="232.44" font-size="3.25" fill="#555" text-anchor="end" textLength="28.3" lengthAdjust="spacingAndGlyphs" transform="rotate(0.05 381.90 232.44)" >Clostridiales Family</text>
<rect x="450.00" y="233.37" width="39.70" height="2.55" fill="#c8102e" />
<line x1="384.60" y1="234.65" x2="387.60" y2="234.65" stroke="#111" stroke-width="0.9" />
<text x="381.90" y="235.79" font-size="3.25" fill="#555" text-anchor="end" textLength="36.7" lengthAdjust="spacingAndGlyphs" transform="rotate(0.05 381.90 235.79)" >Rhodospirillaceae Family</text>
<rect x="450.00" y="236.72" width="37.80" height="2.55" fill="#c8102e" />
<line x1="384.60" y1="238.00" x2="387.60" y2="238.00" stroke="#111" stroke-width="0.9" />
<text x="381.90" y="239.14" font-size="3.25" fill="#555" text-anchor="end" textLength="45.0" lengthAdjust="spacingAndGlyphs" transform="rotate(0.05 381.90 239.14)" >Peptostreptococcaceae Family</text>
<rect x="450.00" y="240.07" width="36.80" height="2.55" fill="#c8102e" />
<line x1="384.60" y1="241.35" x2="387.60" y2="241.35" stroke="#111" stroke-width="0.9" />
<text x="381.90" y="242.49" font-size="3.25" fill="#555" text-anchor="end" textLength="19.0" lengthAdjust="spacingAndGlyphs" transform="rotate(0.05 381.90 242.49)" >Anaerophilus</text>
<rect x="450.00" y="243.42" width="36.50" height="2.55" fill="#c8102e" />
<line x1="384.60" y1="244.70" x2="387.60" y2="244.70" stroke="#111" stroke-width="0.9" />
<text x="381.90" y="245.84" font-size="3.25" fill="#555" text-anchor="end" textLength="17.3" lengthAdjust="spacingAndGlyphs" transform="rotate(0.05 381.90 245.84)" >Romboutsia</text>
<rect x="450.00" y="246.77" width="35.90" height="2.55" fill="#c8102e" />
<line x1="384.60" y1="248.05" x2="387.60" y2="248.05" stroke="#111" stroke-width="0.9" />
<text x="381.90" y="249.19" font-size="3.25" fill="#555" text-anchor="end" textLength="24.2" lengthAdjust="spacingAndGlyphs" transform="rotate(0.05 381.90 249.19)" >Anaerobutyricum</text>
<rect x="450.00" y="250.12" width="35.00" height="2.55" fill="#c8102e" />
<line x1="384.60" y1="251.40" x2="387.60" y2="251.40" stroke="#111" stroke-width="0.9" />
<text x="381.90" y="252.54" font-size="3.25" fill="#555" text-anchor="end" textLength="19.4" lengthAdjust="spacingAndGlyphs" transform="rotate(0.05 381.90 252.54)" >Anaerotaenia</text>
<rect x="450.00" y="253.47" width="34.80" height="2.55" fill="#c8102e" />
<line x1="384.60" y1="254.75" x2="387.60" y2="254.75" stroke="#111" stroke-width="0.9" />
<text x="381.90" y="255.89" font-size="3.25" fill="#555" text-anchor="end" textLength="21.3" lengthAdjust="spacingAndGlyphs" transform="rotate(0.05 381.90 255.89)" >Marvinbryantia</text>
<rect x="450.00" y="256.82" width="34.40" height="2.55" fill="#c8102e" />
<line x1="384.60" y1="258.10" x2="387.60" y2="258.10" stroke="#111" stroke-width="0.9" />
<text x="381.90" y="259.24" font-size="3.25" fill="#555" text-anchor="end" textLength="21.3" lengthAdjust="spacingAndGlyphs" transform="rotate(0.05 381.90 259.24)" >Streptobacillus</text>
<rect x="450.00" y="260.18" width="33.60" height="2.55" fill="#c8102e" />
<line x1="384.60" y1="261.45" x2="387.60" y2="261.45" stroke="#111" stroke-width="0.9" />
<text x="381.90" y="262.59" font-size="3.25" fill="#555" text-anchor="end" textLength="25.9" lengthAdjust="spacingAndGlyphs" transform="rotate(0.05 381.90 262.59)" >Ruminiclostridium</text>
<rect x="450.00" y="263.53" width="32.10" height="2.55" fill="#c8102e" />
<line x1="384.60" y1="264.80" x2="387.60" y2="264.80" stroke="#111" stroke-width="0.9" />
<text x="381.90" y="265.94" font-size="3.25" fill="#555" text-anchor="end" textLength="33.7" lengthAdjust="spacingAndGlyphs" transform="rotate(0.05 381.90 265.94)" >Rhodobacterales Order</text>
<rect x="450.00" y="266.88" width="31.50" height="2.55" fill="#c8102e" />
<line x1="384.60" y1="268.15" x2="387.60" y2="268.15" stroke="#111" stroke-width="0.9" />
<text x="381.90" y="269.29" font-size="3.25" fill="#555" text-anchor="end" textLength="25.9" lengthAdjust="spacingAndGlyphs" transform="rotate(0.05 381.90 269.29)" >Prevotellamassilia</text>
<rect x="450.00" y="270.23" width="26.70" height="2.55" fill="#c8102e" />
<line x1="384.60" y1="271.50" x2="387.60" y2="271.50" stroke="#111" stroke-width="0.9" />
<text x="381.90" y="272.64" font-size="3.25" fill="#555" text-anchor="end" textLength="17.5" lengthAdjust="spacingAndGlyphs" transform="rotate(0.05 381.90 272.64)" >Ureaplasma</text>
<rect x="450.00" y="273.57" width="26.70" height="2.55" fill="#c8102e" />
<line x1="384.60" y1="274.85" x2="387.60" y2="274.85" stroke="#111" stroke-width="0.9" />
<text x="381.90" y="275.99" font-size="3.25" fill="#555" text-anchor="end" textLength="11.5" lengthAdjust="spacingAndGlyphs" transform="rotate(0.05 381.90 275.99)" >Proteus</text>
<rect x="450.00" y="276.93" width="26.00" height="2.55" fill="#c8102e" />
<line x1="384.60" y1="278.20" x2="387.60" y2="278.20" stroke="#111" stroke-width="0.9" />
<text x="381.90" y="279.34" font-size="3.25" fill="#555" text-anchor="end" textLength="25.6" lengthAdjust="spacingAndGlyphs" transform="rotate(0.05 381.90 279.34)" >Lachnoclostridium</text>
<rect x="450.00" y="280.28" width="14.00" height="2.55" fill="#c8102e" />
<line x1="384.60" y1="281.55" x2="387.60" y2="281.55" stroke="#111" stroke-width="0.9" />
<text x="381.90" y="282.69" font-size="3.25" fill="#555" text-anchor="end" textLength="23.3" lengthAdjust="spacingAndGlyphs" transform="rotate(0.05 381.90 282.69)" >Phyllobacterium</text>
<rect x="450.00" y="283.62" width="14.00" height="2.55" fill="#c8102e" />
<line x1="384.60" y1="284.90" x2="387.60" y2="284.90" stroke="#111" stroke-width="0.9" />
<text x="381.90" y="286.04" font-size="3.25" fill="#555" text-anchor="end" textLength="16.7" lengthAdjust="spacingAndGlyphs" transform="rotate(0.05 381.90 286.04)" >Endobacter</text>
<rect x="440.90" y="286.98" width="9.10" height="2.55" fill="#d07c20" />
<line x1="384.60" y1="288.25" x2="387.60" y2="288.25" stroke="#111" stroke-width="0.9" />
<text x="381.90" y="289.39" font-size="3.25" fill="#555" text-anchor="end" textLength="17.5" lengthAdjust="spacingAndGlyphs" transform="rotate(0.05 381.90 289.39)" >Desulfofaba</text>
<rect x="438.00" y="290.33" width="12.00" height="2.55" fill="#d07c20" />
<line x1="384.60" y1="291.60" x2="387.60" y2="291.60" stroke="#111" stroke-width="0.9" />
<text x="381.90" y="292.74" font-size="3.25" fill="#555" text-anchor="end" textLength="19.4" lengthAdjust="spacingAndGlyphs" transform="rotate(0.05 381.90 292.74)" >Erysipelothrix</text>
<rect x="436.70" y="293.68" width="13.30" height="2.55" fill="#d07c20" />
<line x1="384.60" y1="294.95" x2="387.60" y2="294.95" stroke="#111" stroke-width="0.9" />
<text x="381.90" y="296.09" font-size="3.25" fill="#555" text-anchor="end" textLength="22.8" lengthAdjust="spacingAndGlyphs" transform="rotate(0.05 381.90 296.09)" >Ligilactobacillus</text>
<rect x="435.50" y="297.03" width="14.50" height="2.55" fill="#d07c20" />
<line x1="384.60" y1="298.30" x2="387.60" y2="298.30" stroke="#111" stroke-width="0.9" />
<text x="381.90" y="299.44" font-size="3.25" fill="#555" text-anchor="end" textLength="18.7" lengthAdjust="spacingAndGlyphs" transform="rotate(0.05 381.90 299.44)" >Mucispirillum</text>
<rect x="431.40" y="300.38" width="18.60" height="2.55" fill="#d07c20" />
<line x1="384.60" y1="301.65" x2="387.60" y2="301.65" stroke="#111" stroke-width="0.9" />
<text x="381.90" y="302.79" font-size="3.25" fill="#555" text-anchor="end" textLength="31.4" lengthAdjust="spacingAndGlyphs" transform="rotate(0.05 381.90 302.79)" >Prevotellaceae Family</text>
<rect x="431.10" y="303.73" width="18.90" height="2.55" fill="#d07c20" />
<line x1="384.60" y1="305.00" x2="387.60" y2="305.00" stroke="#111" stroke-width="0.9" />
<text x="381.90" y="306.14" font-size="3.25" fill="#555" text-anchor="end" textLength="19.8" lengthAdjust="spacingAndGlyphs" transform="rotate(0.05 381.90 306.14)" >Rhodococcus</text>
<rect x="430.60" y="307.08" width="19.40" height="2.55" fill="#d07c20" />
<line x1="384.60" y1="308.35" x2="387.60" y2="308.35" stroke="#111" stroke-width="0.9" />
<text x="381.90" y="309.49" font-size="3.25" fill="#555" text-anchor="end" textLength="21.7" lengthAdjust="spacingAndGlyphs" transform="rotate(0.05 381.90 309.49)" >Pygmaiobacter</text>
<rect x="429.40" y="310.43" width="20.60" height="2.55" fill="#d07c20" />
<line x1="384.60" y1="311.70" x2="387.60" y2="311.70" stroke="#111" stroke-width="0.9" />
<text x="381.90" y="312.84" font-size="3.25" fill="#555" text-anchor="end" textLength="20.5" lengthAdjust="spacingAndGlyphs" transform="rotate(0.05 381.90 312.84)" >Eisenbergiella</text>
<rect x="426.30" y="313.78" width="23.70" height="2.55" fill="#d07c20" />
<line x1="384.60" y1="315.05" x2="387.60" y2="315.05" stroke="#111" stroke-width="0.9" />
<text x="381.90" y="316.19" font-size="3.25" fill="#555" text-anchor="end" textLength="22.1" lengthAdjust="spacingAndGlyphs" transform="rotate(0.05 381.90 316.19)" >Mesorhizobium</text>
<rect x="426.00" y="317.12" width="24.00" height="2.55" fill="#d07c20" />
<line x1="384.60" y1="318.40" x2="387.60" y2="318.40" stroke="#111" stroke-width="0.9" />
<text x="381.90" y="319.54" font-size="3.25" fill="#555" text-anchor="end" textLength="14.8" lengthAdjust="spacingAndGlyphs" transform="rotate(0.05 381.90 319.54)" >Roseburia</text>
<rect x="425.10" y="320.48" width="24.90" height="2.55" fill="#d07c20" />
<line x1="384.60" y1="321.75" x2="387.60" y2="321.75" stroke="#111" stroke-width="0.9" />
<text x="381.90" y="322.89" font-size="3.25" fill="#555" text-anchor="end" textLength="19.0" lengthAdjust="spacingAndGlyphs" transform="rotate(0.05 381.90 322.89)" >Anaerophilus</text>
<rect x="420.80" y="323.83" width="29.20" height="2.55" fill="#d07c20" />
<line x1="384.60" y1="325.10" x2="387.60" y2="325.10" stroke="#111" stroke-width="0.9" />
<text x="381.90" y="326.24" font-size="3.25" fill="#555" text-anchor="end" textLength="24.4" lengthAdjust="spacingAndGlyphs" transform="rotate(0.05 381.90 326.24)" >Anaerobutyricum</text>
<rect x="419.80" y="327.18" width="30.20" height="2.55" fill="#d07c20" />
<line x1="384.60" y1="328.45" x2="387.60" y2="328.45" stroke="#111" stroke-width="0.9" />
<text x="381.90" y="329.59" font-size="3.25" fill="#555" text-anchor="end" textLength="11.5" lengthAdjust="spacingAndGlyphs" transform="rotate(0.05 381.90 329.59)" >Proteus</text>
<rect x="419.00" y="330.53" width="31.00" height="2.55" fill="#d07c20" />
<line x1="384.60" y1="331.80" x2="387.60" y2="331.80" stroke="#111" stroke-width="0.9" />
<text x="381.90" y="332.94" font-size="3.25" fill="#555" text-anchor="end" textLength="27.7" lengthAdjust="spacingAndGlyphs" transform="rotate(0.05 381.90 332.94)" >Clostridiales Family</text>
<rect x="418.60" y="333.88" width="31.40" height="2.55" fill="#d07c20" />
<line x1="384.60" y1="335.15" x2="387.60" y2="335.15" stroke="#111" stroke-width="0.9" />
<text x="381.90" y="336.29" font-size="3.25" fill="#555" text-anchor="end" textLength="27.4" lengthAdjust="spacingAndGlyphs" transform="rotate(0.05 381.90 336.29)" >Caproiciproducens</text>
<rect x="418.00" y="337.23" width="32.00" height="2.55" fill="#d07c20" />
<line x1="384.60" y1="338.50" x2="387.60" y2="338.50" stroke="#111" stroke-width="0.9" />
<text x="381.90" y="339.64" font-size="3.25" fill="#555" text-anchor="end" textLength="23.6" lengthAdjust="spacingAndGlyphs" transform="rotate(0.05 381.90 339.64)" >Catenibacterium</text>
<rect x="416.70" y="340.58" width="33.30" height="2.55" fill="#d07c20" />
<line x1="384.60" y1="341.85" x2="387.60" y2="341.85" stroke="#111" stroke-width="0.9" />
<text x="381.90" y="342.99" font-size="3.25" fill="#555" text-anchor="end" textLength="21.0" lengthAdjust="spacingAndGlyphs" transform="rotate(0.05 381.90 342.99)" >Anaeroplasma</text>
<rect x="415.20" y="343.93" width="34.80" height="2.55" fill="#d07c20" />
<line x1="384.60" y1="345.20" x2="387.60" y2="345.20" stroke="#111" stroke-width="0.9" />
<text x="381.90" y="346.34" font-size="3.25" fill="#555" text-anchor="end" textLength="18.7" lengthAdjust="spacingAndGlyphs" transform="rotate(0.05 381.90 346.34)" >Mucispirillum</text>
<rect x="414.60" y="347.27" width="35.40" height="2.55" fill="#d07c20" />
<line x1="384.60" y1="348.55" x2="387.60" y2="348.55" stroke="#111" stroke-width="0.9" />
<text x="381.90" y="349.69" font-size="3.25" fill="#555" text-anchor="end" textLength="25.9" lengthAdjust="spacingAndGlyphs" transform="rotate(0.05 381.90 349.69)" >Ruminiclostridium</text>
<rect x="413.70" y="350.62" width="36.30" height="2.55" fill="#d07c20" />
<line x1="384.60" y1="351.90" x2="387.60" y2="351.90" stroke="#111" stroke-width="0.9" />
<text x="381.90" y="353.04" font-size="3.25" fill="#555" text-anchor="end" textLength="18.5" lengthAdjust="spacingAndGlyphs" transform="rotate(0.05 381.90 353.04)" >Anaerovorax</text>
<rect x="412.90" y="353.98" width="37.10" height="2.55" fill="#d07c20" />
<line x1="384.60" y1="355.25" x2="387.60" y2="355.25" stroke="#111" stroke-width="0.9" />
<text x="381.90" y="356.39" font-size="3.25" fill="#555" text-anchor="end" textLength="39.2" lengthAdjust="spacingAndGlyphs" transform="rotate(0.05 381.90 356.39)" >Hyphomicrobiaceae Family</text>
<rect x="412.50" y="357.33" width="37.50" height="2.55" fill="#d07c20" />
<line x1="384.60" y1="358.60" x2="387.60" y2="358.60" stroke="#111" stroke-width="0.9" />
<text x="381.90" y="359.74" font-size="3.25" fill="#555" text-anchor="end" textLength="22.8" lengthAdjust="spacingAndGlyphs" transform="rotate(0.05 381.90 359.74)" >Ligilactobacillus</text>
<rect x="412.30" y="360.68" width="37.70" height="2.55" fill="#d07c20" />
<line x1="384.60" y1="361.95" x2="387.60" y2="361.95" stroke="#111" stroke-width="0.9" />
<text x="381.90" y="363.09" font-size="3.25" fill="#555" text-anchor="end" textLength="27.4" lengthAdjust="spacingAndGlyphs" transform="rotate(0.05 381.90 363.09)" >Lachnoclostridium</text>
<rect x="411.70" y="364.02" width="38.30" height="2.55" fill="#d07c20" />
<line x1="384.60" y1="365.30" x2="387.60" y2="365.30" stroke="#111" stroke-width="0.9" />
<text x="381.90" y="366.44" font-size="3.25" fill="#555" text-anchor="end" textLength="17.1" lengthAdjust="spacingAndGlyphs" transform="rotate(0.05 381.90 366.44)" >Bacteroides</text>
<rect x="411.10" y="367.38" width="38.90" height="2.55" fill="#d07c20" />
<line x1="384.60" y1="368.65" x2="387.60" y2="368.65" stroke="#111" stroke-width="0.9" />
<text x="381.90" y="369.79" font-size="3.25" fill="#555" text-anchor="end" textLength="19.0" lengthAdjust="spacingAndGlyphs" transform="rotate(0.05 381.90 369.79)" >Anaerophilus</text>
<rect x="410.00" y="370.73" width="40.00" height="2.55" fill="#d07c20" />
<line x1="384.60" y1="372.00" x2="387.60" y2="372.00" stroke="#111" stroke-width="0.9" />
<text x="381.90" y="373.14" font-size="3.25" fill="#555" text-anchor="end" textLength="21.0" lengthAdjust="spacingAndGlyphs" transform="rotate(0.05 381.90 373.14)" >Paraprevotella</text>
<rect x="409.00" y="374.08" width="41.00" height="2.55" fill="#d07c20" />
<line x1="384.60" y1="375.35" x2="387.60" y2="375.35" stroke="#111" stroke-width="0.9" />
<text x="381.90" y="376.49" font-size="3.25" fill="#555" text-anchor="end" textLength="28.3" lengthAdjust="spacingAndGlyphs" transform="rotate(0.05 381.90 376.49)" >Clostridiales Family</text>
<rect x="408.30" y="377.43" width="41.70" height="2.55" fill="#d07c20" />
<line x1="384.60" y1="378.70" x2="387.60" y2="378.70" stroke="#111" stroke-width="0.9" />
<text x="381.90" y="379.84" font-size="3.25" fill="#555" text-anchor="end" textLength="15.2" lengthAdjust="spacingAndGlyphs" transform="rotate(0.05 381.90 379.84)" >Dubosiella</text>
<rect x="407.50" y="380.77" width="42.50" height="2.55" fill="#d07c20" />
<line x1="384.60" y1="382.05" x2="387.60" y2="382.05" stroke="#111" stroke-width="0.9" />
<text x="381.90" y="383.19" font-size="3.25" fill="#555" text-anchor="end" textLength="17.9" lengthAdjust="spacingAndGlyphs" transform="rotate(0.05 381.90 383.19)" >Coprobacter</text>
<rect x="405.10" y="384.12" width="44.90" height="2.55" fill="#d07c20" />
<line x1="384.60" y1="385.40" x2="387.60" y2="385.40" stroke="#111" stroke-width="0.9" />
<text x="381.90" y="386.54" font-size="3.25" fill="#555" text-anchor="end" textLength="24.8" lengthAdjust="spacingAndGlyphs" transform="rotate(0.05 381.90 386.54)" >Corynebacterium</text>
<rect x="404.50" y="387.48" width="45.50" height="2.55" fill="#d07c20" />
<line x1="384.60" y1="388.75" x2="387.60" y2="388.75" stroke="#111" stroke-width="0.9" />
<text x="381.90" y="389.89" font-size="3.25" fill="#555" text-anchor="end" textLength="17.5" lengthAdjust="spacingAndGlyphs" transform="rotate(0.05 381.90 389.89)" >Ureaplasma</text>
<rect x="403.60" y="390.83" width="46.40" height="2.55" fill="#d07c20" />
<line x1="384.60" y1="392.10" x2="387.60" y2="392.10" stroke="#111" stroke-width="0.9" />
<text x="381.90" y="393.24" font-size="3.25" fill="#555" text-anchor="end" textLength="9.0" lengthAdjust="spacingAndGlyphs" transform="rotate(0.05 381.90 393.24)" >Dorea</text>
<rect x="402.80" y="394.18" width="47.20" height="2.55" fill="#d07c20" />
<line x1="384.60" y1="395.45" x2="387.60" y2="395.45" stroke="#111" stroke-width="0.9" />
<text x="381.90" y="396.59" font-size="3.25" fill="#555" text-anchor="end" textLength="37.8" lengthAdjust="spacingAndGlyphs" transform="rotate(0.05 381.90 396.59)" >Pseudomonadota Phylum</text>
<rect x="395.20" y="397.52" width="54.80" height="2.55" fill="#d07c20" />
<line x1="384.60" y1="398.80" x2="387.60" y2="398.80" stroke="#111" stroke-width="0.9" />
<text x="381.90" y="399.94" font-size="3.25" fill="#555" text-anchor="end" textLength="23.3" lengthAdjust="spacingAndGlyphs" transform="rotate(0.05 381.90 399.94)" >Phyllobacterium</text>
<rect x="392.70" y="400.88" width="57.30" height="2.55" fill="#d07c20" />
<line x1="384.60" y1="402.15" x2="387.60" y2="402.15" stroke="#111" stroke-width="0.9" />
<text x="381.90" y="403.29" font-size="3.25" fill="#555" text-anchor="end" textLength="13.3" lengthAdjust="spacingAndGlyphs" transform="rotate(0.05 381.90 403.29)" >Wallacea</text>
<rect x="390.10" y="404.23" width="59.90" height="2.55" fill="#d07c20" />
<line x1="384.60" y1="405.50" x2="387.60" y2="405.50" stroke="#111" stroke-width="0.9" />
<text x="381.90" y="406.64" font-size="3.25" fill="#555" text-anchor="end" textLength="11.0" lengthAdjust="spacingAndGlyphs" transform="rotate(0.05 381.90 406.64)" >Bacillus</text>
<rect x="388.30" y="407.58" width="61.70" height="2.55" fill="#d07c20" />
<line x1="384.60" y1="408.85" x2="387.60" y2="408.85" stroke="#111" stroke-width="0.9" />
<text x="381.90" y="409.99" font-size="3.25" fill="#555" text-anchor="end" textLength="15.2" lengthAdjust="spacingAndGlyphs" transform="rotate(0.05 381.90 409.99)" >Rhizobium</text>
<line x1="387.60" y1="209.00" x2="387.60" y2="411.60" stroke="#222" stroke-width="1.1" />
<line x1="387.10" y1="411.10" x2="511.20" y2="411.10" stroke="#222" stroke-width="1.1" />
<line x1="417.60" y1="411.10" x2="417.60" y2="413.60" stroke="#222" stroke-width="0.9" />
<text x="417.60" y="422.30" font-size="6.0" fill="#444" text-anchor="middle" textLength="8.48" lengthAdjust="spacingAndGlyphs" transform="rotate(0.05 417.60 422.30)" >-2.5</text>
<line x1="450.00" y1="411.10" x2="450.00" y2="413.60" stroke="#222" stroke-width="0.9" />
<text x="450.00" y="422.30" font-size="6.0" fill="#444" text-anchor="middle" textLength="6.84" lengthAdjust="spacingAndGlyphs" transform="rotate(0.05 450.00 422.30)" >0.0</text>
<line x1="481.50" y1="411.10" x2="481.50" y2="413.60" stroke="#222" stroke-width="0.9" />
<text x="481.50" y="422.30" font-size="6.0" fill="#444" text-anchor="middle" textLength="6.84" lengthAdjust="spacingAndGlyphs" transform="rotate(0.05 481.50 422.30)" >2.5</text>
<text x="449.60" y="433.30" font-size="7.8" fill="#3a3a3a" text-anchor="middle" textLength="48" lengthAdjust="spacingAndGlyphs" transform="rotate(0.05 449.60 433.30)" >log10 fold change</text>
<text x="332.00" y="310.00" font-size="7" fill="#444" text-anchor="middle" textLength="18.5" lengthAdjust="spacingAndGlyphs" transform="rotate(-90 332.00 310.00)" >Genera</text>
<text x="456.70" y="385.10" font-size="6" fill="#444" text-anchor="start" textLength="37" lengthAdjust="spacingAndGlyphs" transform="rotate(0.05 456.70 385.10)" >Enriched group</text>
<rect x="456.70" y="389.50" width="6.10" height="5.50" fill="#c8102e" />
<rect x="456.70" y="398.40" width="6.10" height="5.50" fill="#c27a22" />
<text x="466.00" y="394.20" font-size="5.8" fill="#444" text-anchor="start" transform="rotate(0.05 466.00 394.20)" >gp91<tspan font-size="4.0" dy="-2.6">phox−/−</tspan><tspan dy="2.6"> (NIH)</tspan></text>
<text x="466.00" y="403.20" font-size="5.8" fill="#444" text-anchor="start" transform="rotate(0.05 466.00 403.20)" >gp91<tspan font-size="4.0" dy="-2.6">phox−/−</tspan><tspan dy="2.6"> (IRCM)</tspan></text>
<rect x="192.00" y="381.20" width="119.30" height="2.59" fill="#a47cb6" />
<rect x="192.00" y="383.79" width="113.60" height="2.59" fill="#a47cb6" />
<rect x="192.00" y="386.39" width="110.10" height="2.59" fill="#a47cb6" />
<rect x="192.00" y="388.98" width="105.10" height="2.59" fill="#a47cb6" />
<rect x="192.00" y="391.57" width="104.90" height="2.59" fill="#a47cb6" />
<rect x="192.00" y="394.16" width="100.90" height="2.59" fill="#a47cb6" />
<rect x="192.00" y="396.76" width="100.60" height="2.59" fill="#a47cb6" />
<rect x="192.00" y="399.35" width="94.80" height="2.59" fill="#a47cb6" />
<rect x="192.00" y="401.94" width="92.80" height="2.59" fill="#a47cb6" />
<rect x="192.00" y="404.54" width="92.00" height="2.59" fill="#a47cb6" />
<rect x="192.00" y="407.13" width="88.50" height="2.59" fill="#a47cb6" />
<rect x="192.00" y="409.72" width="83.60" height="2.59" fill="#a47cb6" />
<rect x="192.00" y="412.32" width="75.70" height="2.59" fill="#a47cb6" />
<rect x="192.00" y="414.91" width="74.00" height="2.59" fill="#a47cb6" />
<rect x="192.00" y="417.50" width="72.40" height="2.59" fill="#a47cb6" />
<rect x="192.00" y="420.09" width="71.50" height="2.59" fill="#a47cb6" />
<rect x="192.00" y="422.69" width="70.30" height="2.59" fill="#a47cb6" />
<rect x="192.00" y="425.28" width="66.30" height="2.59" fill="#a47cb6" />
<rect x="192.00" y="427.87" width="64.60" height="2.59" fill="#a47cb6" />
<rect x="192.00" y="430.47" width="63.70" height="2.59" fill="#a47cb6" />
<rect x="192.00" y="433.06" width="58.60" height="2.59" fill="#a47cb6" />
<rect x="192.00" y="435.65" width="56.50" height="2.59" fill="#a47cb6" />
<rect x="192.00" y="438.25" width="41.30" height="2.59" fill="#a47cb6" />
<rect x="192.00" y="440.84" width="15.60" height="2.59" fill="#a47cb6" />
<rect x="166.30" y="446.02" width="25.70" height="2.59" fill="#9a7ca6" />
<rect x="155.60" y="448.62" width="36.40" height="2.59" fill="#9a7ca6" />
<rect x="154.40" y="451.21" width="37.60" height="2.59" fill="#9a7ca6" />
<rect x="147.80" y="453.80" width="44.20" height="2.59" fill="#9a7ca6" />
<rect x="146.70" y="456.40" width="45.30" height="2.59" fill="#9a7ca6" />
<rect x="145.20" y="458.99" width="46.80" height="2.59" fill="#9a7ca6" />
<rect x="140.50" y="461.58" width="51.50" height="2.59" fill="#9a7ca6" />
<rect x="134.60" y="464.18" width="57.40" height="2.59" fill="#9a7ca6" />
<rect x="132.90" y="466.77" width="59.10" height="2.59" fill="#9a7ca6" />
<rect x="130.60" y="469.36" width="61.40" height="2.59" fill="#9a7ca6" />
<rect x="128.30" y="471.95" width="63.70" height="2.59" fill="#9a7ca6" />
<rect x="128.00" y="474.55" width="64.00" height="2.59" fill="#9a7ca6" />
<rect x="127.70" y="477.14" width="64.30" height="2.59" fill="#9a7ca6" />
<rect x="127.50" y="479.73" width="64.50" height="2.59" fill="#9a7ca6" />
<rect x="127.10" y="482.33" width="64.90" height="2.59" fill="#9a7ca6" />
<rect x="126.80" y="484.92" width="65.20" height="2.59" fill="#9a7ca6" />
<rect x="126.30" y="487.51" width="65.70" height="2.59" fill="#9a7ca6" />
<rect x="126.10" y="490.11" width="65.90" height="2.59" fill="#9a7ca6" />
<rect x="126.00" y="492.70" width="66.00" height="2.59" fill="#9a7ca6" />
<rect x="125.60" y="495.29" width="66.40" height="2.59" fill="#9a7ca6" />
<rect x="125.40" y="497.88" width="66.60" height="2.59" fill="#9a7ca6" />
<rect x="125.10" y="500.48" width="66.90" height="2.59" fill="#9a7ca6" />
<rect x="124.80" y="503.07" width="67.20" height="2.59" fill="#9a7ca6" />
<rect x="124.33" y="505.66" width="67.67" height="2.59" fill="#9a7ca6" />
<rect x="123.87" y="508.26" width="68.13" height="2.59" fill="#9a7ca6" />
<rect x="123.40" y="510.85" width="68.60" height="2.59" fill="#9a7ca6" />
<rect x="122.86" y="513.44" width="69.14" height="2.59" fill="#9a7ca6" />
<rect x="122.31" y="516.04" width="69.69" height="2.59" fill="#9a7ca6" />
<rect x="121.77" y="518.63" width="70.23" height="2.59" fill="#9a7ca6" />
<rect x="121.23" y="521.22" width="70.77" height="2.59" fill="#9a7ca6" />
<rect x="120.64" y="523.82" width="71.36" height="2.59" fill="#9a7ca6" />
<rect x="120.00" y="526.41" width="72.00" height="2.59" fill="#9a7ca6" />
<rect x="119.60" y="529.00" width="72.40" height="2.59" fill="#9a7ca6" />
<rect x="119.20" y="531.59" width="72.80" height="2.59" fill="#9a7ca6" />
<rect x="118.80" y="534.19" width="73.20" height="2.59" fill="#9a7ca6" />
<rect x="118.06" y="536.78" width="73.94" height="2.59" fill="#9a7ca6" />
<rect x="117.32" y="539.37" width="74.68" height="2.59" fill="#9a7ca6" />
<rect x="116.74" y="541.97" width="75.26" height="2.59" fill="#9a7ca6" />
<rect x="116.55" y="544.56" width="75.45" height="2.59" fill="#9a7ca6" />
<rect x="116.35" y="547.15" width="75.65" height="2.59" fill="#9a7ca6" />
<rect x="116.16" y="549.75" width="75.84" height="2.59" fill="#9a7ca6" />
<rect x="115.84" y="552.34" width="76.16" height="2.59" fill="#9a7ca6" />
<rect x="115.02" y="554.93" width="76.98" height="2.59" fill="#9a7ca6" />
<rect x="114.20" y="557.52" width="77.80" height="2.59" fill="#9a7ca6" />
<rect x="112.12" y="560.12" width="79.88" height="2.59" fill="#9a7ca6" />
<rect x="111.28" y="562.71" width="80.72" height="2.59" fill="#9a7ca6" />
<rect x="110.76" y="565.30" width="81.24" height="2.59" fill="#9a7ca6" />
<rect x="110.23" y="567.90" width="81.77" height="2.59" fill="#9a7ca6" />
<rect x="109.71" y="570.49" width="82.29" height="2.59" fill="#9a7ca6" />
<rect x="109.25" y="573.08" width="82.75" height="2.59" fill="#9a7ca6" />
<rect x="108.89" y="575.67" width="83.11" height="2.59" fill="#9a7ca6" />
<rect x="108.52" y="578.27" width="83.48" height="2.59" fill="#9a7ca6" />
<rect x="108.11" y="580.86" width="83.89" height="2.59" fill="#9a7ca6" />
<rect x="107.70" y="583.45" width="84.30" height="2.59" fill="#9a7ca6" />
<rect x="107.06" y="586.05" width="84.94" height="2.59" fill="#9a7ca6" />
<rect x="106.43" y="588.64" width="85.57" height="2.59" fill="#9a7ca6" />
<rect x="105.67" y="591.23" width="86.33" height="2.59" fill="#9a7ca6" />
<rect x="104.89" y="593.83" width="87.11" height="2.59" fill="#9a7ca6" />
<rect x="104.02" y="596.42" width="87.98" height="2.59" fill="#9a7ca6" />
<rect x="103.07" y="599.01" width="88.93" height="2.59" fill="#9a7ca6" />
<rect x="102.29" y="601.61" width="89.71" height="2.59" fill="#9a7ca6" />
<rect x="101.77" y="604.20" width="90.23" height="2.59" fill="#9a7ca6" />
<rect x="101.22" y="606.79" width="90.78" height="2.59" fill="#9a7ca6" />
<rect x="100.45" y="609.38" width="91.55" height="2.59" fill="#9a7ca6" />
<rect x="99.68" y="611.98" width="92.32" height="2.59" fill="#9a7ca6" />
<rect x="98.58" y="614.57" width="93.42" height="2.59" fill="#9a7ca6" />
<rect x="97.55" y="617.16" width="94.45" height="2.59" fill="#9a7ca6" />
<rect x="96.69" y="619.76" width="95.31" height="2.59" fill="#9a7ca6" />
<rect x="95.78" y="622.35" width="96.22" height="2.59" fill="#9a7ca6" />
<rect x="94.69" y="624.94" width="97.31" height="2.59" fill="#9a7ca6" />
<rect x="93.60" y="627.53" width="98.40" height="2.59" fill="#9a7ca6" />
<rect x="92.70" y="630.13" width="99.30" height="2.59" fill="#9a7ca6" />
<rect x="91.50" y="632.72" width="100.50" height="2.59" fill="#9a7ca6" />
<rect x="90.80" y="635.31" width="101.20" height="2.59" fill="#9a7ca6" />
<rect x="89.60" y="637.91" width="102.40" height="2.59" fill="#9a7ca6" />
<rect x="88.10" y="640.50" width="103.90" height="2.59" fill="#9a7ca6" />
<rect x="86.50" y="643.09" width="105.50" height="2.59" fill="#9a7ca6" />
<rect x="80.40" y="645.69" width="111.60" height="2.59" fill="#9a7ca6" />
<rect x="78.50" y="648.28" width="113.50" height="2.59" fill="#9a7ca6" />
<rect x="75.80" y="650.87" width="116.20" height="2.59" fill="#9a7ca6" />
<rect x="72.70" y="653.46" width="119.30" height="2.59" fill="#9a7ca6" />
<rect x="71.50" y="656.06" width="120.50" height="2.59" fill="#9a7ca6" />
<rect x="192.00" y="380.22" width="124.00" height="1.95" fill="#64307c" />
<line x1="59.20" y1="381.20" x2="62.30" y2="381.20" stroke="#111" stroke-width="0.9" />
<text x="56.30" y="382.13" font-size="2.65" fill="#555" text-anchor="end" textLength="15.1" lengthAdjust="spacingAndGlyphs" transform="rotate(0.05 56.30 382.13)" >Muribaculum</text>
<rect x="192.00" y="382.82" width="119.30" height="1.95" fill="#64307c" />
<line x1="59.20" y1="383.79" x2="62.30" y2="383.79" stroke="#111" stroke-width="0.9" />
<text x="56.30" y="384.72" font-size="2.65" fill="#555" text-anchor="end" textLength="25.3" lengthAdjust="spacingAndGlyphs" transform="rotate(0.05 56.30 384.72)" >Prevotellaceae Family</text>
<rect x="192.00" y="385.41" width="113.60" height="1.95" fill="#64307c" />
<line x1="59.20" y1="386.39" x2="62.30" y2="386.39" stroke="#111" stroke-width="0.9" />
<text x="56.30" y="387.31" font-size="2.65" fill="#555" text-anchor="end" textLength="10.8" lengthAdjust="spacingAndGlyphs" transform="rotate(0.05 56.30 387.31)" >Wallacea</text>
<rect x="192.00" y="388.00" width="110.10" height="1.95" fill="#64307c" />
<line x1="59.20" y1="388.98" x2="62.30" y2="388.98" stroke="#111" stroke-width="0.9" />
<text x="56.30" y="389.91" font-size="2.65" fill="#555" text-anchor="end" textLength="36.1" lengthAdjust="spacingAndGlyphs" transform="rotate(0.05 56.30 389.91)" >Peptostreptococcaceae Family</text>
<rect x="192.00" y="390.60" width="105.10" height="1.95" fill="#64307c" />
<line x1="59.20" y1="391.57" x2="62.30" y2="391.57" stroke="#111" stroke-width="0.9" />
<text x="56.30" y="392.50" font-size="2.65" fill="#555" text-anchor="end" textLength="15.1" lengthAdjust="spacingAndGlyphs" transform="rotate(0.05 56.30 392.50)" >Faecalispora</text>
<rect x="192.00" y="393.19" width="104.90" height="1.95" fill="#64307c" />
<line x1="59.20" y1="394.16" x2="62.30" y2="394.16" stroke="#111" stroke-width="0.9" />
<text x="56.30" y="395.09" font-size="2.65" fill="#555" text-anchor="end" textLength="15.1" lengthAdjust="spacingAndGlyphs" transform="rotate(0.05 56.30 395.09)" >Peptococcus</text>
<rect x="192.00" y="395.78" width="100.90" height="1.95" fill="#64307c" />
<line x1="59.20" y1="396.76" x2="62.30" y2="396.76" stroke="#111" stroke-width="0.9" />
<text x="56.30" y="397.69" font-size="2.65" fill="#555" text-anchor="end" textLength="8.6" lengthAdjust="spacingAndGlyphs" transform="rotate(0.05 56.30 397.69)" >Hallella</text>
<rect x="192.00" y="398.38" width="100.60" height="1.95" fill="#64307c" />
<line x1="59.20" y1="399.35" x2="62.30" y2="399.35" stroke="#111" stroke-width="0.9" />
<text x="56.30" y="400.28" font-size="2.65" fill="#555" text-anchor="end" textLength="23.2" lengthAdjust="spacingAndGlyphs" transform="rotate(0.05 56.30 400.28)" >Clostridiales Family</text>
<rect x="192.00" y="400.97" width="94.80" height="1.95" fill="#64307c" />
<line x1="59.20" y1="401.94" x2="62.30" y2="401.94" stroke="#111" stroke-width="0.9" />
<text x="56.30" y="402.87" font-size="2.65" fill="#555" text-anchor="end" textLength="25.3" lengthAdjust="spacingAndGlyphs" transform="rotate(0.05 56.30 402.87)" >Eubacteriaceae Family</text>
<rect x="192.00" y="403.56" width="92.80" height="1.95" fill="#64307c" />
<line x1="59.20" y1="404.54" x2="62.30" y2="404.54" stroke="#111" stroke-width="0.9" />
<text x="56.30" y="405.46" font-size="2.65" fill="#555" text-anchor="end" textLength="17.3" lengthAdjust="spacingAndGlyphs" transform="rotate(0.05 56.30 405.46)" >Marvinbryantia</text>
<rect x="192.00" y="406.15" width="92.00" height="1.95" fill="#64307c" />
<line x1="59.20" y1="407.13" x2="62.30" y2="407.13" stroke="#111" stroke-width="0.9" />
<text x="56.30" y="408.06" font-size="2.65" fill="#555" text-anchor="end" textLength="29.6" lengthAdjust="spacingAndGlyphs" transform="rotate(0.05 56.30 408.06)" >Rhodospirillaceae Family</text>
<rect x="192.00" y="408.75" width="88.50" height="1.95" fill="#64307c" />
<line x1="59.20" y1="409.72" x2="62.30" y2="409.72" stroke="#111" stroke-width="0.9" />
<text x="56.30" y="410.65" font-size="2.65" fill="#555" text-anchor="end" textLength="14.0" lengthAdjust="spacingAndGlyphs" transform="rotate(0.05 56.30 410.65)" >Bacteroides</text>
<rect x="192.00" y="411.34" width="83.60" height="1.95" fill="#64307c" />
<line x1="59.20" y1="412.32" x2="62.30" y2="412.32" stroke="#111" stroke-width="0.9" />
<text x="56.30" y="413.24" font-size="2.65" fill="#555" text-anchor="end" textLength="28.0" lengthAdjust="spacingAndGlyphs" transform="rotate(0.05 56.30 413.24)" >Oscillospiraceae Family</text>
<rect x="192.00" y="413.93" width="75.70" height="1.95" fill="#64307c" />
<line x1="59.20" y1="414.91" x2="62.30" y2="414.91" stroke="#111" stroke-width="0.9" />
<text x="56.30" y="415.84" font-size="2.65" fill="#555" text-anchor="end" textLength="15.6" lengthAdjust="spacingAndGlyphs" transform="rotate(0.05 56.30 415.84)" >Enterocloster</text>
<rect x="192.00" y="416.53" width="74.00" height="1.95" fill="#64307c" />
<line x1="59.20" y1="417.50" x2="62.30" y2="417.50" stroke="#111" stroke-width="0.9" />
<text x="56.30" y="418.43" font-size="2.65" fill="#555" text-anchor="end" textLength="17.8" lengthAdjust="spacingAndGlyphs" transform="rotate(0.05 56.30 418.43)" >Pygmaiobacter</text>
<rect x="192.00" y="419.12" width="72.40" height="1.95" fill="#64307c" />
<line x1="59.20" y1="420.09" x2="62.30" y2="420.09" stroke="#111" stroke-width="0.9" />
<text x="56.30" y="421.02" font-size="2.65" fill="#555" text-anchor="end" textLength="16.7" lengthAdjust="spacingAndGlyphs" transform="rotate(0.05 56.30 421.02)" >Eisenbergiella</text>
<rect x="192.00" y="421.71" width="71.50" height="1.95" fill="#64307c" />
<line x1="59.20" y1="422.69" x2="62.30" y2="422.69" stroke="#111" stroke-width="0.9" />
<text x="56.30" y="423.62" font-size="2.65" fill="#555" text-anchor="end" textLength="12.4" lengthAdjust="spacingAndGlyphs" transform="rotate(0.05 56.30 423.62)" >Dubosiella</text>
<rect x="192.00" y="424.31" width="70.30" height="1.95" fill="#64307c" />
<line x1="59.20" y1="425.28" x2="62.30" y2="425.28" stroke="#111" stroke-width="0.9" />
<text x="56.30" y="426.21" font-size="2.65" fill="#555" text-anchor="end" textLength="26.4" lengthAdjust="spacingAndGlyphs" transform="rotate(0.05 56.30 426.21)" >Prevotellaceae Family</text>
<rect x="192.00" y="426.90" width="66.30" height="1.95" fill="#64307c" />
<line x1="59.20" y1="427.87" x2="62.30" y2="427.87" stroke="#111" stroke-width="0.9" />
<text x="56.30" y="428.80" font-size="2.65" fill="#555" text-anchor="end" textLength="9.7" lengthAdjust="spacingAndGlyphs" transform="rotate(0.05 56.30 428.80)" >Alistipes</text>
<rect x="192.00" y="429.49" width="64.60" height="1.95" fill="#64307c" />
<line x1="59.20" y1="430.47" x2="62.30" y2="430.47" stroke="#111" stroke-width="0.9" />
<text x="56.30" y="431.39" font-size="2.65" fill="#555" text-anchor="end" textLength="17.8" lengthAdjust="spacingAndGlyphs" transform="rotate(0.05 56.30 431.39)" >Mesorhizobium</text>
<rect x="192.00" y="432.08" width="63.70" height="1.95" fill="#64307c" />
<line x1="59.20" y1="433.06" x2="62.30" y2="433.06" stroke="#111" stroke-width="0.9" />
<text x="56.30" y="433.99" font-size="2.65" fill="#555" text-anchor="end" textLength="8.1" lengthAdjust="spacingAndGlyphs" transform="rotate(0.05 56.30 433.99)" >Blautia</text>
<rect x="192.00" y="434.68" width="58.60" height="1.95" fill="#64307c" />
<line x1="59.20" y1="435.65" x2="62.30" y2="435.65" stroke="#111" stroke-width="0.9" />
<text x="56.30" y="436.58" font-size="2.65" fill="#555" text-anchor="end" textLength="15.1" lengthAdjust="spacingAndGlyphs" transform="rotate(0.05 56.30 436.58)" >Muribaculum</text>
<rect x="192.00" y="437.27" width="56.50" height="1.95" fill="#64307c" />
<line x1="59.20" y1="438.25" x2="62.30" y2="438.25" stroke="#111" stroke-width="0.9" />
<text x="56.30" y="439.17" font-size="2.65" fill="#555" text-anchor="end" textLength="26.9" lengthAdjust="spacingAndGlyphs" transform="rotate(0.05 56.30 439.17)" >Eubacteriaceae Family</text>
<rect x="192.00" y="439.86" width="41.30" height="1.95" fill="#64307c" />
<line x1="59.20" y1="440.84" x2="62.30" y2="440.84" stroke="#111" stroke-width="0.9" />
<text x="56.30" y="441.77" font-size="2.65" fill="#555" text-anchor="end" textLength="19.9" lengthAdjust="spacingAndGlyphs" transform="rotate(0.05 56.30 441.77)" >Anaerobutyricum</text>
<rect x="192.00" y="442.46" width="15.60" height="1.95" fill="#64307c" />
<line x1="59.20" y1="443.43" x2="62.30" y2="443.43" stroke="#111" stroke-width="0.9" />
<text x="56.30" y="444.36" font-size="2.65" fill="#555" text-anchor="end" textLength="14.5" lengthAdjust="spacingAndGlyphs" transform="rotate(0.05 56.30 444.36)" >Phocaeicola</text>
<rect x="166.30" y="445.05" width="25.70" height="1.95" fill="#c8aed6" />
<line x1="59.20" y1="446.02" x2="62.30" y2="446.02" stroke="#111" stroke-width="0.9" />
<text x="56.30" y="446.95" font-size="2.65" fill="#555" text-anchor="end" textLength="15.1" lengthAdjust="spacingAndGlyphs" transform="rotate(0.05 56.30 446.95)" >Faecalispora</text>
<rect x="155.60" y="447.64" width="36.40" height="1.95" fill="#c8aed6" />
<line x1="59.20" y1="448.62" x2="62.30" y2="448.62" stroke="#111" stroke-width="0.9" />
<text x="56.30" y="449.55" font-size="2.65" fill="#555" text-anchor="end" textLength="19.9" lengthAdjust="spacingAndGlyphs" transform="rotate(0.05 56.30 449.55)" >Corynebacterium</text>
<rect x="154.40" y="450.24" width="37.60" height="1.95" fill="#c8aed6" />
<line x1="59.20" y1="451.21" x2="62.30" y2="451.21" stroke="#111" stroke-width="0.9" />
<text x="56.30" y="452.14" font-size="2.65" fill="#555" text-anchor="end" textLength="17.8" lengthAdjust="spacingAndGlyphs" transform="rotate(0.05 56.30 452.14)" >Pygmaiobacter</text>
<rect x="147.80" y="452.83" width="44.20" height="1.95" fill="#c8aed6" />
<line x1="59.20" y1="453.80" x2="62.30" y2="453.80" stroke="#111" stroke-width="0.9" />
<text x="56.30" y="454.73" font-size="2.65" fill="#555" text-anchor="end" textLength="19.4" lengthAdjust="spacingAndGlyphs" transform="rotate(0.05 56.30 454.73)" >Parabacteroides</text>
<rect x="146.70" y="455.42" width="45.30" height="1.95" fill="#c8aed6" />
<line x1="59.20" y1="456.40" x2="62.30" y2="456.40" stroke="#111" stroke-width="0.9" />
<text x="56.30" y="457.32" font-size="2.65" fill="#555" text-anchor="end" textLength="13.5" lengthAdjust="spacingAndGlyphs" transform="rotate(0.05 56.30 457.32)" >Endobacter</text>
<rect x="145.20" y="458.01" width="46.80" height="1.95" fill="#c8aed6" />
<line x1="59.20" y1="458.99" x2="62.30" y2="458.99" stroke="#111" stroke-width="0.9" />
<text x="56.30" y="459.92" font-size="2.65" fill="#555" text-anchor="end" textLength="20.5" lengthAdjust="spacingAndGlyphs" transform="rotate(0.05 56.30 459.92)" >Ruminiclostridium</text>
<rect x="140.50" y="460.61" width="51.50" height="1.95" fill="#c8aed6" />
<line x1="59.20" y1="461.58" x2="62.30" y2="461.58" stroke="#111" stroke-width="0.9" />
<text x="56.30" y="462.51" font-size="2.65" fill="#555" text-anchor="end" textLength="16.2" lengthAdjust="spacingAndGlyphs" transform="rotate(0.05 56.30 462.51)" >Rhodococcus</text>
<rect x="134.60" y="463.20" width="57.40" height="1.95" fill="#c8aed6" />
<line x1="59.20" y1="464.18" x2="62.30" y2="464.18" stroke="#111" stroke-width="0.9" />
<text x="56.30" y="465.10" font-size="2.65" fill="#555" text-anchor="end" textLength="21.0" lengthAdjust="spacingAndGlyphs" transform="rotate(0.05 56.30 465.10)" >Prevotellamassilia</text>
<rect x="132.90" y="465.79" width="59.10" height="1.95" fill="#c8aed6" />
<line x1="59.20" y1="466.77" x2="62.30" y2="466.77" stroke="#111" stroke-width="0.9" />
<text x="56.30" y="467.70" font-size="2.65" fill="#555" text-anchor="end" textLength="16.2" lengthAdjust="spacingAndGlyphs" transform="rotate(0.05 56.30 467.70)" >Coprobacillus</text>
<rect x="130.60" y="468.39" width="61.40" height="1.95" fill="#c8aed6" />
<line x1="59.20" y1="469.36" x2="62.30" y2="469.36" stroke="#111" stroke-width="0.9" />
<text x="56.30" y="470.29" font-size="2.65" fill="#555" text-anchor="end" textLength="20.5" lengthAdjust="spacingAndGlyphs" transform="rotate(0.05 56.30 470.29)" >Lachnoclostridium</text>
<rect x="128.30" y="470.98" width="63.70" height="1.95" fill="#c8aed6" />
<line x1="59.20" y1="471.95" x2="62.30" y2="471.95" stroke="#111" stroke-width="0.9" />
<text x="56.30" y="472.88" font-size="2.65" fill="#555" text-anchor="end" textLength="23.2" lengthAdjust="spacingAndGlyphs" transform="rotate(0.05 56.30 472.88)" >Clostridiales Family</text>
<rect x="128.00" y="473.57" width="64.00" height="1.95" fill="#c8aed6" />
<line x1="59.20" y1="474.55" x2="62.30" y2="474.55" stroke="#111" stroke-width="0.9" />
<text x="56.30" y="475.48" font-size="2.65" fill="#555" text-anchor="end" textLength="12.1" lengthAdjust="spacingAndGlyphs" transform="rotate(0.05 56.30 475.48)" >Roseburia</text>
<rect x="127.70" y="476.17" width="64.30" height="1.95" fill="#c8aed6" />
<line x1="59.20" y1="477.14" x2="62.30" y2="477.14" stroke="#111" stroke-width="0.9" />
<text x="56.30" y="478.07" font-size="2.65" fill="#555" text-anchor="end" textLength="21.0" lengthAdjust="spacingAndGlyphs" transform="rotate(0.05 56.30 478.07)" >Anaerobutyricum</text>
<rect x="127.50" y="478.76" width="64.50" height="1.95" fill="#c8aed6" />
<line x1="59.20" y1="479.73" x2="62.30" y2="479.73" stroke="#111" stroke-width="0.9" />
<text x="56.30" y="480.66" font-size="2.65" fill="#555" text-anchor="end" textLength="9.2" lengthAdjust="spacingAndGlyphs" transform="rotate(0.05 56.30 480.66)" >Proteus</text>
<rect x="127.10" y="481.35" width="64.90" height="1.95" fill="#c8aed6" />
<line x1="59.20" y1="482.33" x2="62.30" y2="482.33" stroke="#111" stroke-width="0.9" />
<text x="56.30" y="483.25" font-size="2.65" fill="#555" text-anchor="end" textLength="19.9" lengthAdjust="spacingAndGlyphs" transform="rotate(0.05 56.30 483.25)" >Corynebacterium</text>
<rect x="126.80" y="483.94" width="65.20" height="1.95" fill="#c8aed6" />
<line x1="59.20" y1="484.92" x2="62.30" y2="484.92" stroke="#111" stroke-width="0.9" />
<text x="56.30" y="485.85" font-size="2.65" fill="#555" text-anchor="end" textLength="20.5" lengthAdjust="spacingAndGlyphs" transform="rotate(0.05 56.30 485.85)" >Catenibacterium</text>
<rect x="126.30" y="486.54" width="65.70" height="1.95" fill="#c8aed6" />
<line x1="59.20" y1="487.51" x2="62.30" y2="487.51" stroke="#111" stroke-width="0.9" />
<text x="56.30" y="488.44" font-size="2.65" fill="#555" text-anchor="end" textLength="15.9" lengthAdjust="spacingAndGlyphs" transform="rotate(0.05 56.30 488.44)" >Erysipelothrix</text>
<rect x="126.10" y="489.13" width="65.90" height="1.95" fill="#c8aed6" />
<line x1="59.20" y1="490.11" x2="62.30" y2="490.11" stroke="#111" stroke-width="0.9" />
<text x="56.30" y="491.03" font-size="2.65" fill="#555" text-anchor="end" textLength="8.1" lengthAdjust="spacingAndGlyphs" transform="rotate(0.05 56.30 491.03)" >Blautia</text>
<rect x="126.00" y="491.72" width="66.00" height="1.95" fill="#c8aed6" />
<line x1="59.20" y1="492.70" x2="62.30" y2="492.70" stroke="#111" stroke-width="0.9" />
<text x="56.30" y="493.63" font-size="2.65" fill="#555" text-anchor="end" textLength="32.8" lengthAdjust="spacingAndGlyphs" transform="rotate(0.05 56.30 493.63)" >Hydrogenoanaerobacterium</text>
<rect x="125.60" y="494.32" width="66.40" height="1.95" fill="#c8aed6" />
<line x1="59.20" y1="495.29" x2="62.30" y2="495.29" stroke="#111" stroke-width="0.9" />
<text x="56.30" y="496.22" font-size="2.65" fill="#555" text-anchor="end" textLength="13.5" lengthAdjust="spacingAndGlyphs" transform="rotate(0.05 56.30 496.22)" >Endobacter</text>
<rect x="125.40" y="496.91" width="66.60" height="1.95" fill="#c8aed6" />
<line x1="59.20" y1="497.88" x2="62.30" y2="497.88" stroke="#111" stroke-width="0.9" />
<text x="56.30" y="498.81" font-size="2.65" fill="#555" text-anchor="end" textLength="29.6" lengthAdjust="spacingAndGlyphs" transform="rotate(0.05 56.30 498.81)" >Rhodospirillaceae Family</text>
<rect x="125.10" y="499.50" width="66.90" height="1.95" fill="#c8aed6" />
<line x1="59.20" y1="500.48" x2="62.30" y2="500.48" stroke="#111" stroke-width="0.9" />
<text x="56.30" y="501.41" font-size="2.65" fill="#555" text-anchor="end" textLength="31.8" lengthAdjust="spacingAndGlyphs" transform="rotate(0.05 56.30 501.41)" >Erysipelotrichaceae Family</text>
<rect x="124.80" y="502.10" width="67.20" height="1.95" fill="#c8aed6" />
<line x1="59.20" y1="503.07" x2="62.30" y2="503.07" stroke="#111" stroke-width="0.9" />
<text x="56.30" y="504.00" font-size="2.65" fill="#555" text-anchor="end" textLength="17.8" lengthAdjust="spacingAndGlyphs" transform="rotate(0.05 56.30 504.00)" >Pygmaiobacter</text>
<rect x="124.33" y="504.69" width="67.67" height="1.95" fill="#c8aed6" />
<line x1="59.20" y1="505.66" x2="62.30" y2="505.66" stroke="#111" stroke-width="0.9" />
<text x="56.30" y="506.59" font-size="2.65" fill="#555" text-anchor="end" textLength="17.8" lengthAdjust="spacingAndGlyphs" transform="rotate(0.05 56.30 506.59)" >Mesorhizobium</text>
<rect x="123.87" y="507.28" width="68.13" height="1.95" fill="#c8aed6" />
<line x1="59.20" y1="508.26" x2="62.30" y2="508.26" stroke="#111" stroke-width="0.9" />
<text x="56.30" y="509.18" font-size="2.65" fill="#555" text-anchor="end" textLength="13.5" lengthAdjust="spacingAndGlyphs" transform="rotate(0.05 56.30 509.18)" >Eggerthella</text>
<rect x="123.40" y="509.88" width="68.60" height="1.95" fill="#c8aed6" />
<line x1="59.20" y1="510.85" x2="62.30" y2="510.85" stroke="#111" stroke-width="0.9" />
<text x="56.30" y="511.78" font-size="2.65" fill="#555" text-anchor="end" textLength="16.2" lengthAdjust="spacingAndGlyphs" transform="rotate(0.05 56.30 511.78)" >Rhodococcus</text>
<rect x="122.86" y="512.47" width="69.14" height="1.95" fill="#c8aed6" />
<line x1="59.20" y1="513.44" x2="62.30" y2="513.44" stroke="#111" stroke-width="0.9" />
<text x="56.30" y="514.37" font-size="2.65" fill="#555" text-anchor="end" textLength="24.2" lengthAdjust="spacingAndGlyphs" transform="rotate(0.05 56.30 514.37)" >Bacteroidales Order</text>
<rect x="122.31" y="515.06" width="69.69" height="1.95" fill="#c8aed6" />
<line x1="59.20" y1="516.04" x2="62.30" y2="516.04" stroke="#111" stroke-width="0.9" />
<text x="56.30" y="516.96" font-size="2.65" fill="#555" text-anchor="end" textLength="21.5" lengthAdjust="spacingAndGlyphs" transform="rotate(0.05 56.30 516.96)" >Lachnoclostridium</text>
<rect x="121.77" y="517.65" width="70.23" height="1.95" fill="#c8aed6" />
<line x1="59.20" y1="518.63" x2="62.30" y2="518.63" stroke="#111" stroke-width="0.9" />
<text x="56.30" y="519.56" font-size="2.65" fill="#555" text-anchor="end" textLength="11.3" lengthAdjust="spacingAndGlyphs" transform="rotate(0.05 56.30 519.56)" >Lawsonia</text>
<rect x="121.23" y="520.25" width="70.77" height="1.95" fill="#c8aed6" />
<line x1="59.20" y1="521.22" x2="62.30" y2="521.22" stroke="#111" stroke-width="0.9" />
<text x="56.30" y="522.15" font-size="2.65" fill="#555" text-anchor="end" textLength="38.8" lengthAdjust="spacingAndGlyphs" transform="rotate(0.05 56.30 522.15)" >Thermoanaerobacteraceae Family</text>
<rect x="120.64" y="522.84" width="71.36" height="1.95" fill="#c8aed6" />
<line x1="59.20" y1="523.82" x2="62.30" y2="523.82" stroke="#111" stroke-width="0.9" />
<text x="56.30" y="524.74" font-size="2.65" fill="#555" text-anchor="end" textLength="17.5" lengthAdjust="spacingAndGlyphs" transform="rotate(0.05 56.30 524.74)" >Fusobacterium</text>
<rect x="120.00" y="525.43" width="72.00" height="1.95" fill="#c8aed6" />
<line x1="59.20" y1="526.41" x2="62.30" y2="526.41" stroke="#111" stroke-width="0.9" />
<text x="56.30" y="527.34" font-size="2.65" fill="#555" text-anchor="end" textLength="16.2" lengthAdjust="spacingAndGlyphs" transform="rotate(0.05 56.30 527.34)" >Coprobacillus</text>
<rect x="119.60" y="528.03" width="72.40" height="1.95" fill="#c8aed6" />
<line x1="59.20" y1="529.00" x2="62.30" y2="529.00" stroke="#111" stroke-width="0.9" />
<text x="56.30" y="529.93" font-size="2.65" fill="#555" text-anchor="end" textLength="18.1" lengthAdjust="spacingAndGlyphs" transform="rotate(0.05 56.30 529.93)" >Bifidobacterium</text>
<rect x="119.20" y="530.62" width="72.80" height="1.95" fill="#c8aed6" />
<line x1="59.20" y1="531.59" x2="62.30" y2="531.59" stroke="#111" stroke-width="0.9" />
<text x="56.30" y="532.52" font-size="2.65" fill="#555" text-anchor="end" textLength="17.5" lengthAdjust="spacingAndGlyphs" transform="rotate(0.05 56.30 532.52)" >Prevotellaceae</text>
<rect x="118.80" y="533.21" width="73.20" height="1.95" fill="#c8aed6" />
<line x1="59.20" y1="534.19" x2="62.30" y2="534.19" stroke="#111" stroke-width="0.9" />
<text x="56.30" y="535.11" font-size="2.65" fill="#555" text-anchor="end" textLength="12.9" lengthAdjust="spacingAndGlyphs" transform="rotate(0.05 56.30 535.11)" >Sellimonas</text>
<rect x="118.06" y="535.80" width="73.94" height="1.95" fill="#c8aed6" />
<line x1="59.20" y1="536.78" x2="62.30" y2="536.78" stroke="#111" stroke-width="0.9" />
<text x="56.30" y="537.71" font-size="2.65" fill="#555" text-anchor="end" textLength="10.2" lengthAdjust="spacingAndGlyphs" transform="rotate(0.05 56.30 537.71)" >Bilophila</text>
<rect x="117.32" y="538.40" width="74.68" height="1.95" fill="#c8aed6" />
<line x1="59.20" y1="539.37" x2="62.30" y2="539.37" stroke="#111" stroke-width="0.9" />
<text x="56.30" y="540.30" font-size="2.65" fill="#555" text-anchor="end" textLength="12.1" lengthAdjust="spacingAndGlyphs" transform="rotate(0.05 56.30 540.30)" >Roseburia</text>
<rect x="116.74" y="540.99" width="75.26" height="1.95" fill="#c8aed6" />
<line x1="59.20" y1="541.97" x2="62.30" y2="541.97" stroke="#111" stroke-width="0.9" />
<text x="56.30" y="542.89" font-size="2.65" fill="#555" text-anchor="end" textLength="20.5" lengthAdjust="spacingAndGlyphs" transform="rotate(0.05 56.30 542.89)" >Corynebacterium</text>
<rect x="116.55" y="543.58" width="75.45" height="1.95" fill="#c8aed6" />
<line x1="59.20" y1="544.56" x2="62.30" y2="544.56" stroke="#111" stroke-width="0.9" />
<text x="56.30" y="545.49" font-size="2.65" fill="#555" text-anchor="end" textLength="10.8" lengthAdjust="spacingAndGlyphs" transform="rotate(0.05 56.30 545.49)" >Wallacea</text>
<rect x="116.35" y="546.18" width="75.65" height="1.95" fill="#c8aed6" />
<line x1="59.20" y1="547.15" x2="62.30" y2="547.15" stroke="#111" stroke-width="0.9" />
<text x="56.30" y="548.08" font-size="2.65" fill="#555" text-anchor="end" textLength="13.5" lengthAdjust="spacingAndGlyphs" transform="rotate(0.05 56.30 548.08)" >Endobacter</text>
<rect x="116.16" y="548.77" width="75.84" height="1.95" fill="#c8aed6" />
<line x1="59.20" y1="549.75" x2="62.30" y2="549.75" stroke="#111" stroke-width="0.9" />
<text x="56.30" y="550.67" font-size="2.65" fill="#555" text-anchor="end" textLength="33.4" lengthAdjust="spacingAndGlyphs" transform="rotate(0.05 56.30 550.67)" >Hydrogenoanaerobacterium</text>
<rect x="115.84" y="551.36" width="76.16" height="1.95" fill="#c8aed6" />
<line x1="59.20" y1="552.34" x2="62.30" y2="552.34" stroke="#111" stroke-width="0.9" />
<text x="56.30" y="553.27" font-size="2.65" fill="#555" text-anchor="end" textLength="20.7" lengthAdjust="spacingAndGlyphs" transform="rotate(0.05 56.30 553.27)" >Ruminiclostridium</text>
<rect x="115.02" y="553.96" width="76.98" height="1.95" fill="#c8aed6" />
<line x1="59.20" y1="554.93" x2="62.30" y2="554.93" stroke="#111" stroke-width="0.9" />
<text x="56.30" y="555.86" font-size="2.65" fill="#555" text-anchor="end" textLength="14.0" lengthAdjust="spacingAndGlyphs" transform="rotate(0.05 56.30 555.86)" >Bacteroides</text>
<rect x="114.20" y="556.55" width="77.80" height="1.95" fill="#c8aed6" />
<line x1="59.20" y1="557.52" x2="62.30" y2="557.52" stroke="#111" stroke-width="0.9" />
<text x="56.30" y="558.45" font-size="2.65" fill="#555" text-anchor="end" textLength="15.1" lengthAdjust="spacingAndGlyphs" transform="rotate(0.05 56.30 558.45)" >Muribaculum</text>
<rect x="112.12" y="559.14" width="79.88" height="1.95" fill="#c8aed6" />
<line x1="59.20" y1="560.12" x2="62.30" y2="560.12" stroke="#111" stroke-width="0.9" />
<text x="56.30" y="561.04" font-size="2.65" fill="#555" text-anchor="end" textLength="33.9" lengthAdjust="spacingAndGlyphs" transform="rotate(0.05 56.30 561.04)" >Candidatus Saccharimonas</text>
<rect x="111.28" y="561.74" width="80.72" height="1.95" fill="#c8aed6" />
<line x1="59.20" y1="562.71" x2="62.30" y2="562.71" stroke="#111" stroke-width="0.9" />
<text x="56.30" y="563.64" font-size="2.65" fill="#555" text-anchor="end" textLength="18.1" lengthAdjust="spacingAndGlyphs" transform="rotate(0.05 56.30 563.64)" >Mesorhizobium</text>
<rect x="110.76" y="564.33" width="81.24" height="1.95" fill="#c8aed6" />
<line x1="59.20" y1="565.30" x2="62.30" y2="565.30" stroke="#111" stroke-width="0.9" />
<text x="56.30" y="566.23" font-size="2.65" fill="#555" text-anchor="end" textLength="21.0" lengthAdjust="spacingAndGlyphs" transform="rotate(0.05 56.30 566.23)" >Prevotellamassilia</text>
<rect x="110.23" y="566.92" width="81.77" height="1.95" fill="#c8aed6" />
<line x1="59.20" y1="567.90" x2="62.30" y2="567.90" stroke="#111" stroke-width="0.9" />
<text x="56.30" y="568.82" font-size="2.65" fill="#555" text-anchor="end" textLength="15.1" lengthAdjust="spacingAndGlyphs" transform="rotate(0.05 56.30 568.82)" >Faecalispora</text>
<rect x="109.71" y="569.51" width="82.29" height="1.95" fill="#c8aed6" />
<line x1="59.20" y1="570.49" x2="62.30" y2="570.49" stroke="#111" stroke-width="0.9" />
<text x="56.30" y="571.42" font-size="2.65" fill="#555" text-anchor="end" textLength="11.3" lengthAdjust="spacingAndGlyphs" transform="rotate(0.05 56.30 571.42)" >Lawsonia</text>
<rect x="109.25" y="572.11" width="82.75" height="1.95" fill="#c8aed6" />
<line x1="59.20" y1="573.08" x2="62.30" y2="573.08" stroke="#111" stroke-width="0.9" />
<text x="56.30" y="574.01" font-size="2.65" fill="#555" text-anchor="end" textLength="19.4" lengthAdjust="spacingAndGlyphs" transform="rotate(0.05 56.30 574.01)" >Parabacteroides</text>
<rect x="108.89" y="574.70" width="83.11" height="1.95" fill="#c8aed6" />
<line x1="59.20" y1="575.67" x2="62.30" y2="575.67" stroke="#111" stroke-width="0.9" />
<text x="56.30" y="576.60" font-size="2.65" fill="#555" text-anchor="end" textLength="21.0" lengthAdjust="spacingAndGlyphs" transform="rotate(0.05 56.30 576.60)" >Lachnoclostridium</text>
<rect x="108.52" y="577.29" width="83.48" height="1.95" fill="#c8aed6" />
<line x1="59.20" y1="578.27" x2="62.30" y2="578.27" stroke="#111" stroke-width="0.9" />
<text x="56.30" y="579.20" font-size="2.65" fill="#555" text-anchor="end" textLength="26.9" lengthAdjust="spacingAndGlyphs" transform="rotate(0.05 56.30 579.20)" >Eubacteriaceae Family</text>
<rect x="108.11" y="579.89" width="83.89" height="1.95" fill="#c8aed6" />
<line x1="59.20" y1="580.86" x2="62.30" y2="580.86" stroke="#111" stroke-width="0.9" />
<text x="56.30" y="581.79" font-size="2.65" fill="#555" text-anchor="end" textLength="34.5" lengthAdjust="spacingAndGlyphs" transform="rotate(0.05 56.30 581.79)" >Peptostreptococcaceae Family</text>
<rect x="107.70" y="582.48" width="84.30" height="1.95" fill="#c8aed6" />
<line x1="59.20" y1="583.45" x2="62.30" y2="583.45" stroke="#111" stroke-width="0.9" />
<text x="56.30" y="584.38" font-size="2.65" fill="#555" text-anchor="end" textLength="28.5" lengthAdjust="spacingAndGlyphs" transform="rotate(0.05 56.30 584.38)" >Marinilabiliaceae Family</text>
<rect x="107.06" y="585.07" width="84.94" height="1.95" fill="#c8aed6" />
<line x1="59.20" y1="586.05" x2="62.30" y2="586.05" stroke="#111" stroke-width="0.9" />
<text x="56.30" y="586.97" font-size="2.65" fill="#555" text-anchor="end" textLength="31.2" lengthAdjust="spacingAndGlyphs" transform="rotate(0.05 56.30 586.97)" >Erysipelotrichaceae Family</text>
<rect x="106.43" y="587.66" width="85.57" height="1.95" fill="#c8aed6" />
<line x1="59.20" y1="588.64" x2="62.30" y2="588.64" stroke="#111" stroke-width="0.9" />
<text x="56.30" y="589.57" font-size="2.65" fill="#555" text-anchor="end" textLength="17.8" lengthAdjust="spacingAndGlyphs" transform="rotate(0.05 56.30 589.57)" >Pygmaiobacter</text>
<rect x="105.67" y="590.26" width="86.33" height="1.95" fill="#c8aed6" />
<line x1="59.20" y1="591.23" x2="62.30" y2="591.23" stroke="#111" stroke-width="0.9" />
<text x="56.30" y="592.16" font-size="2.65" fill="#555" text-anchor="end" textLength="12.1" lengthAdjust="spacingAndGlyphs" transform="rotate(0.05 56.30 592.16)" >Roseburia</text>
<rect x="104.89" y="592.85" width="87.11" height="1.95" fill="#c8aed6" />
<line x1="59.20" y1="593.83" x2="62.30" y2="593.83" stroke="#111" stroke-width="0.9" />
<text x="56.30" y="594.75" font-size="2.65" fill="#555" text-anchor="end" textLength="9.7" lengthAdjust="spacingAndGlyphs" transform="rotate(0.05 56.30 594.75)" >Alistipes</text>
<rect x="104.02" y="595.44" width="87.98" height="1.95" fill="#c8aed6" />
<line x1="59.20" y1="596.42" x2="62.30" y2="596.42" stroke="#111" stroke-width="0.9" />
<text x="56.30" y="597.35" font-size="2.65" fill="#555" text-anchor="end" textLength="11.9" lengthAdjust="spacingAndGlyphs" transform="rotate(0.05 56.30 597.35)" >Tyzzerella</text>
<rect x="103.07" y="598.04" width="88.93" height="1.95" fill="#c8aed6" />
<line x1="59.20" y1="599.01" x2="62.30" y2="599.01" stroke="#111" stroke-width="0.9" />
<text x="56.30" y="599.94" font-size="2.65" fill="#555" text-anchor="end" textLength="8.6" lengthAdjust="spacingAndGlyphs" transform="rotate(0.05 56.30 599.94)" >Hallella</text>
<rect x="102.29" y="600.63" width="89.71" height="1.95" fill="#c8aed6" />
<line x1="59.20" y1="601.61" x2="62.30" y2="601.61" stroke="#111" stroke-width="0.9" />
<text x="56.30" y="602.53" font-size="2.65" fill="#555" text-anchor="end" textLength="26.4" lengthAdjust="spacingAndGlyphs" transform="rotate(0.05 56.30 602.53)" >Prevotellaceae Family</text>
<rect x="101.77" y="603.22" width="90.23" height="1.95" fill="#c8aed6" />
<line x1="59.20" y1="604.20" x2="62.30" y2="604.20" stroke="#111" stroke-width="0.9" />
<text x="56.30" y="605.13" font-size="2.65" fill="#555" text-anchor="end" textLength="16.2" lengthAdjust="spacingAndGlyphs" transform="rotate(0.05 56.30 605.13)" >Rhodococcus</text>
<rect x="101.22" y="605.82" width="90.78" height="1.95" fill="#c8aed6" />
<line x1="59.20" y1="606.79" x2="62.30" y2="606.79" stroke="#111" stroke-width="0.9" />
<text x="56.30" y="607.72" font-size="2.65" fill="#555" text-anchor="end" textLength="21.5" lengthAdjust="spacingAndGlyphs" transform="rotate(0.05 56.30 607.72)" >Prevotellamassilia</text>
<rect x="100.45" y="608.41" width="91.55" height="1.95" fill="#c8aed6" />
<line x1="59.20" y1="609.38" x2="62.30" y2="609.38" stroke="#111" stroke-width="0.9" />
<text x="56.30" y="610.31" font-size="2.65" fill="#555" text-anchor="end" textLength="17.3" lengthAdjust="spacingAndGlyphs" transform="rotate(0.05 56.30 610.31)" >Marvinbryantia</text>
<rect x="99.68" y="611.00" width="92.32" height="1.95" fill="#c8aed6" />
<line x1="59.20" y1="611.98" x2="62.30" y2="611.98" stroke="#111" stroke-width="0.9" />
<text x="56.30" y="612.90" font-size="2.65" fill="#555" text-anchor="end" textLength="22.1" lengthAdjust="spacingAndGlyphs" transform="rotate(0.05 56.30 612.90)" >Caproiciproducens</text>
<rect x="98.58" y="613.59" width="93.42" height="1.95" fill="#c8aed6" />
<line x1="59.20" y1="614.57" x2="62.30" y2="614.57" stroke="#111" stroke-width="0.9" />
<text x="56.30" y="615.50" font-size="2.65" fill="#555" text-anchor="end" textLength="17.8" lengthAdjust="spacingAndGlyphs" transform="rotate(0.05 56.30 615.50)" >Mesorhizobium</text>
<rect x="97.55" y="616.19" width="94.45" height="1.95" fill="#c8aed6" />
<line x1="59.20" y1="617.16" x2="62.30" y2="617.16" stroke="#111" stroke-width="0.9" />
<text x="56.30" y="618.09" font-size="2.65" fill="#555" text-anchor="end" textLength="16.2" lengthAdjust="spacingAndGlyphs" transform="rotate(0.05 56.30 618.09)" >Coprobacillus</text>
<rect x="96.69" y="618.78" width="95.31" height="1.95" fill="#c8aed6" />
<line x1="59.20" y1="619.76" x2="62.30" y2="619.76" stroke="#111" stroke-width="0.9" />
<text x="56.30" y="620.68" font-size="2.65" fill="#555" text-anchor="end" textLength="13.5" lengthAdjust="spacingAndGlyphs" transform="rotate(0.05 56.30 620.68)" >Endobacter</text>
<rect x="95.78" y="621.37" width="96.22" height="1.95" fill="#c8aed6" />
<line x1="59.20" y1="622.35" x2="62.30" y2="622.35" stroke="#111" stroke-width="0.9" />
<text x="56.30" y="623.28" font-size="2.65" fill="#555" text-anchor="end" textLength="18.1" lengthAdjust="spacingAndGlyphs" transform="rotate(0.05 56.30 623.28)" >Bifidobacterium</text>
<rect x="94.69" y="623.97" width="97.31" height="1.95" fill="#c8aed6" />
<line x1="59.20" y1="624.94" x2="62.30" y2="624.94" stroke="#111" stroke-width="0.9" />
<text x="56.30" y="625.87" font-size="2.65" fill="#555" text-anchor="end" textLength="17.3" lengthAdjust="spacingAndGlyphs" transform="rotate(0.05 56.30 625.87)" >Streptobacillus</text>
<rect x="93.60" y="626.56" width="98.40" height="1.95" fill="#c8aed6" />
<line x1="59.20" y1="627.53" x2="62.30" y2="627.53" stroke="#111" stroke-width="0.9" />
<text x="56.30" y="628.46" font-size="2.65" fill="#555" text-anchor="end" textLength="17.3" lengthAdjust="spacingAndGlyphs" transform="rotate(0.05 56.30 628.46)" >Enterorhabdus</text>
<rect x="92.70" y="629.15" width="99.30" height="1.95" fill="#c8aed6" />
<line x1="59.20" y1="630.13" x2="62.30" y2="630.13" stroke="#111" stroke-width="0.9" />
<text x="56.30" y="631.06" font-size="2.65" fill="#555" text-anchor="end" textLength="16.2" lengthAdjust="spacingAndGlyphs" transform="rotate(0.05 56.30 631.06)" >Enterococcus</text>
<rect x="91.50" y="631.75" width="100.50" height="1.95" fill="#c8aed6" />
<line x1="59.20" y1="632.72" x2="62.30" y2="632.72" stroke="#111" stroke-width="0.9" />
<text x="56.30" y="633.65" font-size="2.65" fill="#555" text-anchor="end" textLength="16.7" lengthAdjust="spacingAndGlyphs" transform="rotate(0.05 56.30 633.65)" >Eisenbergiella</text>
<rect x="90.80" y="634.34" width="101.20" height="1.95" fill="#c8aed6" />
<line x1="59.20" y1="635.31" x2="62.30" y2="635.31" stroke="#111" stroke-width="0.9" />
<text x="56.30" y="636.24" font-size="2.65" fill="#555" text-anchor="end" textLength="14.0" lengthAdjust="spacingAndGlyphs" transform="rotate(0.05 56.30 636.24)" >Bacteroides</text>
<rect x="89.60" y="636.93" width="102.40" height="1.95" fill="#c8aed6" />
<line x1="59.20" y1="637.91" x2="62.30" y2="637.91" stroke="#111" stroke-width="0.9" />
<text x="56.30" y="638.83" font-size="2.65" fill="#555" text-anchor="end" textLength="24.2" lengthAdjust="spacingAndGlyphs" transform="rotate(0.05 56.30 638.83)" >Bacteroidales Order</text>
<rect x="88.10" y="639.52" width="103.90" height="1.95" fill="#c8aed6" />
<line x1="59.20" y1="640.50" x2="62.30" y2="640.50" stroke="#111" stroke-width="0.9" />
<text x="56.30" y="641.43" font-size="2.65" fill="#555" text-anchor="end" textLength="27.5" lengthAdjust="spacingAndGlyphs" transform="rotate(0.05 56.30 641.43)" >Rhodobacterales Order</text>
<rect x="86.50" y="642.12" width="105.50" height="1.95" fill="#c8aed6" />
<line x1="59.20" y1="643.09" x2="62.30" y2="643.09" stroke="#111" stroke-width="0.9" />
<text x="56.30" y="644.02" font-size="2.65" fill="#555" text-anchor="end" textLength="17.8" lengthAdjust="spacingAndGlyphs" transform="rotate(0.05 56.30 644.02)" >Pygmaiobacter</text>
<rect x="80.40" y="644.71" width="111.60" height="1.95" fill="#c8aed6" />
<line x1="59.20" y1="645.69" x2="62.30" y2="645.69" stroke="#111" stroke-width="0.9" />
<text x="56.30" y="646.61" font-size="2.65" fill="#555" text-anchor="end" textLength="15.1" lengthAdjust="spacingAndGlyphs" transform="rotate(0.05 56.30 646.61)" >Muribaculum</text>
<rect x="78.50" y="647.30" width="113.50" height="1.95" fill="#c8aed6" />
<line x1="59.20" y1="648.28" x2="62.30" y2="648.28" stroke="#111" stroke-width="0.9" />
<text x="56.30" y="649.21" font-size="2.65" fill="#555" text-anchor="end" textLength="17.8" lengthAdjust="spacingAndGlyphs" transform="rotate(0.05 56.30 649.21)" >Mesorhizobium</text>
<rect x="75.80" y="649.90" width="116.20" height="1.95" fill="#c8aed6" />
<line x1="59.20" y1="650.87" x2="62.30" y2="650.87" stroke="#111" stroke-width="0.9" />
<text x="56.30" y="651.80" font-size="2.65" fill="#555" text-anchor="end" textLength="17.8" lengthAdjust="spacingAndGlyphs" transform="rotate(0.05 56.30 651.80)" >Prevotellaceae</text>
<rect x="72.70" y="652.49" width="119.30" height="1.95" fill="#c8aed6" />
<line x1="59.20" y1="653.46" x2="62.30" y2="653.46" stroke="#111" stroke-width="0.9" />
<text x="56.30" y="654.39" font-size="2.65" fill="#555" text-anchor="end" textLength="14.5" lengthAdjust="spacingAndGlyphs" transform="rotate(0.05 56.30 654.39)" >Phocaeicola</text>
<rect x="71.50" y="655.08" width="120.50" height="1.95" fill="#c8aed6" />
<line x1="59.20" y1="656.06" x2="62.30" y2="656.06" stroke="#111" stroke-width="0.9" />
<text x="56.30" y="656.99" font-size="2.65" fill="#555" text-anchor="end" textLength="18.1" lengthAdjust="spacingAndGlyphs" transform="rotate(0.05 56.30 656.99)" >Bifidobacterium</text>
<rect x="63.50" y="657.68" width="128.50" height="1.95" fill="#c8aed6" />
<line x1="59.20" y1="658.65" x2="62.30" y2="658.65" stroke="#111" stroke-width="0.9" />
<text x="56.30" y="659.58" font-size="2.65" fill="#555" text-anchor="end" textLength="12.1" lengthAdjust="spacingAndGlyphs" transform="rotate(0.05 56.30 659.58)" >Roseburia</text>
<line x1="62.30" y1="379.80" x2="62.30" y2="661.80" stroke="#222" stroke-width="1.1" />
<line x1="61.80" y1="661.30" x2="315.60" y2="661.30" stroke="#222" stroke-width="1.1" />
<line x1="126.00" y1="661.30" x2="126.00" y2="663.80" stroke="#222" stroke-width="0.9" />
<text x="126.00" y="671.80" font-size="6.0" fill="#444" text-anchor="middle" textLength="8.48" lengthAdjust="spacingAndGlyphs" transform="rotate(0.05 126.00 671.80)" >-2.5</text>
<line x1="192.00" y1="661.30" x2="192.00" y2="663.80" stroke="#222" stroke-width="0.9" />
<text x="192.00" y="671.80" font-size="6.0" fill="#444" text-anchor="middle" textLength="6.84" lengthAdjust="spacingAndGlyphs" transform="rotate(0.05 192.00 671.80)" >0.0</text>
<line x1="258.40" y1="661.30" x2="258.40" y2="663.80" stroke="#222" stroke-width="0.9" />
<text x="258.40" y="671.80" font-size="6.0" fill="#444" text-anchor="middle" textLength="6.84" lengthAdjust="spacingAndGlyphs" transform="rotate(0.05 258.40 671.80)" >2.5</text>
<text x="189.60" y="683.00" font-size="7.8" fill="#3a3a3a" text-anchor="middle" textLength="48" lengthAdjust="spacingAndGlyphs" transform="rotate(0.05 189.60 683.00)" >log10 fold change</text>
<text x="13.90" y="520.30" font-size="7.6" fill="#444" text-anchor="middle" textLength="19" lengthAdjust="spacingAndGlyphs" transform="rotate(-90 13.90 520.30)" >Genera</text>
<text x="238.00" y="634.40" font-size="6" fill="#444" text-anchor="start" textLength="37.5" lengthAdjust="spacingAndGlyphs" transform="rotate(0.05 238.00 634.40)" >Enriched group</text>
<rect x="238.00" y="638.80" width="5.60" height="5.40" fill="#b596c6" />
<rect x="238.00" y="647.60" width="5.60" height="5.40" fill="#5c2070" />
<text x="246.80" y="643.50" font-size="5.8" fill="#444" text-anchor="start" transform="rotate(0.05 246.80 643.50)" >p47<tspan font-size="4.0" dy="-2.6">phox−/−</tspan><tspan dy="2.6"> (IRCM)</tspan></text>
<text x="246.80" y="652.70" font-size="5.8" fill="#444" text-anchor="start" transform="rotate(0.05 246.80 652.70)" >p47<tspan font-size="4.0" dy="-2.6">phox−/−</tspan><tspan dy="2.6"> (NIH)</tspan></text>
<rect x="450.20" y="462.40" width="47.90" height="3.78" fill="#a070b4" />
<rect x="450.20" y="466.18" width="47.70" height="3.78" fill="#a070b4" />
<rect x="450.20" y="469.96" width="47.00" height="3.78" fill="#a070b4" />
<rect x="450.20" y="473.74" width="46.30" height="3.78" fill="#a070b4" />
<rect x="450.20" y="477.52" width="45.70" height="3.78" fill="#a070b4" />
<rect x="450.20" y="481.30" width="45.30" height="3.78" fill="#a070b4" />
<rect x="450.20" y="485.08" width="44.70" height="3.78" fill="#a070b4" />
<rect x="450.20" y="488.86" width="44.30" height="3.78" fill="#a070b4" />
<rect x="450.20" y="492.64" width="43.00" height="3.78" fill="#a070b4" />
<rect x="450.20" y="496.42" width="42.00" height="3.78" fill="#a070b4" />
<rect x="450.20" y="500.20" width="41.60" height="3.78" fill="#a070b4" />
<rect x="450.20" y="503.98" width="41.00" height="3.78" fill="#a070b4" />
<rect x="450.20" y="507.76" width="40.30" height="3.78" fill="#a070b4" />
<rect x="450.20" y="511.54" width="39.80" height="3.78" fill="#a070b4" />
<rect x="450.20" y="515.32" width="39.30" height="3.78" fill="#a070b4" />
<rect x="450.20" y="519.10" width="38.50" height="3.78" fill="#a070b4" />
<rect x="450.20" y="522.88" width="37.60" height="3.78" fill="#a070b4" />
<rect x="450.20" y="526.66" width="37.20" height="3.78" fill="#a070b4" />
<rect x="450.20" y="530.44" width="36.90" height="3.78" fill="#a070b4" />
<rect x="450.20" y="534.22" width="36.20" height="3.78" fill="#a070b4" />
<rect x="450.20" y="538.00" width="35.80" height="3.78" fill="#a070b4" />
<rect x="450.20" y="541.78" width="35.60" height="3.78" fill="#a070b4" />
<rect x="450.20" y="545.56" width="33.50" height="3.78" fill="#a070b4" />
<rect x="450.20" y="549.34" width="31.80" height="3.78" fill="#a070b4" />
<rect x="450.20" y="553.12" width="30.80" height="3.78" fill="#a070b4" />
<rect x="450.20" y="556.90" width="27.50" height="3.78" fill="#a070b4" />
<rect x="450.20" y="560.68" width="27.30" height="3.78" fill="#a070b4" />
<rect x="450.20" y="564.46" width="24.90" height="3.78" fill="#a070b4" />
<rect x="450.20" y="568.24" width="23.10" height="3.78" fill="#a070b4" />
<rect x="450.20" y="572.02" width="22.60" height="3.78" fill="#a070b4" />
<rect x="450.20" y="575.80" width="14.80" height="3.78" fill="#a070b4" />
<rect x="450.20" y="579.58" width="14.20" height="3.78" fill="#a070b4" />
<rect x="450.20" y="583.36" width="13.40" height="3.78" fill="#a070b4" />
<rect x="450.20" y="587.14" width="12.70" height="3.78" fill="#a070b4" />
<rect x="450.20" y="590.92" width="9.90" height="3.78" fill="#a070b4" />
<rect x="429.70" y="598.48" width="20.50" height="3.78" fill="#efa452" />
<rect x="425.10" y="602.26" width="25.10" height="3.78" fill="#efa452" />
<rect x="421.30" y="606.04" width="28.90" height="3.78" fill="#efa452" />
<rect x="418.90" y="609.82" width="31.30" height="3.78" fill="#efa452" />
<rect x="418.60" y="613.60" width="31.60" height="3.78" fill="#efa452" />
<rect x="414.30" y="617.38" width="35.90" height="3.78" fill="#efa452" />
<rect x="411.20" y="621.16" width="39.00" height="3.78" fill="#efa452" />
<rect x="409.50" y="624.94" width="40.70" height="3.78" fill="#efa452" />
<rect x="409.20" y="628.72" width="41.00" height="3.78" fill="#efa452" />
<rect x="404.50" y="632.50" width="45.70" height="3.78" fill="#efa452" />
<rect x="401.40" y="636.28" width="48.80" height="3.78" fill="#efa452" />
<rect x="400.90" y="640.06" width="49.30" height="3.78" fill="#efa452" />
<rect x="400.50" y="643.84" width="49.70" height="3.78" fill="#efa452" />
<rect x="400.20" y="647.62" width="50.00" height="3.78" fill="#efa452" />
<rect x="394.20" y="651.40" width="56.00" height="3.78" fill="#efa452" />
<rect x="393.70" y="655.18" width="56.50" height="3.78" fill="#efa452" />
<rect x="450.20" y="460.95" width="52.00" height="2.90" fill="#4e1468" />
<line x1="385.00" y1="462.40" x2="388.10" y2="462.40" stroke="#111" stroke-width="0.9" />
<text x="381.80" y="463.59" font-size="3.4" fill="#555" text-anchor="end" textLength="15.8" lengthAdjust="spacingAndGlyphs" transform="rotate(0.05 381.80 463.59)" >Dubosiella</text>
<rect x="450.20" y="464.73" width="47.90" height="2.90" fill="#4e1468" />
<line x1="385.00" y1="466.18" x2="388.10" y2="466.18" stroke="#111" stroke-width="0.9" />
<text x="381.80" y="467.37" font-size="3.4" fill="#555" text-anchor="end" textLength="20.1" lengthAdjust="spacingAndGlyphs" transform="rotate(0.05 381.80 467.37)" >Angelakisella</text>
<rect x="450.20" y="468.51" width="47.70" height="2.90" fill="#4e1468" />
<line x1="385.00" y1="469.96" x2="388.10" y2="469.96" stroke="#111" stroke-width="0.9" />
<text x="381.80" y="471.15" font-size="3.4" fill="#555" text-anchor="end" textLength="25.5" lengthAdjust="spacingAndGlyphs" transform="rotate(0.05 381.80 471.15)" >Anaerobutyricum</text>
<rect x="450.20" y="472.29" width="47.00" height="2.90" fill="#4e1468" />
<line x1="385.00" y1="473.74" x2="388.10" y2="473.74" stroke="#111" stroke-width="0.9" />
<text x="381.80" y="474.93" font-size="3.4" fill="#555" text-anchor="end" textLength="41.7" lengthAdjust="spacingAndGlyphs" transform="rotate(0.05 381.80 474.93)" >Candidatus Saccharimonas</text>
<rect x="450.20" y="476.07" width="46.30" height="2.90" fill="#4e1468" />
<line x1="385.00" y1="477.52" x2="388.10" y2="477.52" stroke="#111" stroke-width="0.9" />
<text x="381.80" y="478.71" font-size="3.4" fill="#555" text-anchor="end" textLength="14.3" lengthAdjust="spacingAndGlyphs" transform="rotate(0.05 381.80 478.71)" >Lawsonia</text>
<rect x="450.20" y="479.85" width="45.70" height="2.90" fill="#4e1468" />
<line x1="385.00" y1="481.30" x2="388.10" y2="481.30" stroke="#111" stroke-width="0.9" />
<text x="381.80" y="482.49" font-size="3.4" fill="#555" text-anchor="end" textLength="12.8" lengthAdjust="spacingAndGlyphs" transform="rotate(0.05 381.80 482.49)" >Bilophila</text>
<rect x="450.20" y="483.63" width="45.30" height="2.90" fill="#4e1468" />
<line x1="385.00" y1="485.08" x2="388.10" y2="485.08" stroke="#111" stroke-width="0.9" />
<text x="381.80" y="486.27" font-size="3.4" fill="#555" text-anchor="end" textLength="33.9" lengthAdjust="spacingAndGlyphs" transform="rotate(0.05 381.80 486.27)" >Prevotellaceae Family</text>
<rect x="450.20" y="487.41" width="44.70" height="2.90" fill="#4e1468" />
<line x1="385.00" y1="488.86" x2="388.10" y2="488.86" stroke="#111" stroke-width="0.9" />
<text x="381.80" y="490.05" font-size="3.4" fill="#555" text-anchor="end" textLength="16.0" lengthAdjust="spacingAndGlyphs" transform="rotate(0.05 381.80 490.05)" >Rhizobium</text>
<rect x="450.20" y="491.19" width="44.30" height="2.90" fill="#4e1468" />
<line x1="385.00" y1="492.64" x2="388.10" y2="492.64" stroke="#111" stroke-width="0.9" />
<text x="381.80" y="493.83" font-size="3.4" fill="#555" text-anchor="end" textLength="22.7" lengthAdjust="spacingAndGlyphs" transform="rotate(0.05 381.80 493.83)" >Pygmaiobacter</text>
<rect x="450.20" y="494.97" width="43.00" height="2.90" fill="#4e1468" />
<line x1="385.00" y1="496.42" x2="388.10" y2="496.42" stroke="#111" stroke-width="0.9" />
<text x="381.80" y="497.61" font-size="3.4" fill="#555" text-anchor="end" textLength="24.3" lengthAdjust="spacingAndGlyphs" transform="rotate(0.05 381.80 497.61)" >Phyllobacterium</text>
<rect x="450.20" y="498.75" width="42.00" height="2.90" fill="#4e1468" />
<line x1="385.00" y1="500.20" x2="388.10" y2="500.20" stroke="#111" stroke-width="0.9" />
<text x="381.80" y="501.39" font-size="3.4" fill="#555" text-anchor="end" textLength="19.7" lengthAdjust="spacingAndGlyphs" transform="rotate(0.05 381.80 501.39)" >Lactobacillus</text>
<rect x="450.20" y="502.53" width="41.60" height="2.90" fill="#4e1468" />
<line x1="385.00" y1="503.98" x2="388.10" y2="503.98" stroke="#111" stroke-width="0.9" />
<text x="381.80" y="505.17" font-size="3.4" fill="#555" text-anchor="end" textLength="17.4" lengthAdjust="spacingAndGlyphs" transform="rotate(0.05 381.80 505.17)" >Endobacter</text>
<rect x="450.20" y="506.31" width="41.00" height="2.90" fill="#4e1468" />
<line x1="385.00" y1="507.76" x2="388.10" y2="507.76" stroke="#111" stroke-width="0.9" />
<text x="381.80" y="508.95" font-size="3.4" fill="#555" text-anchor="end" textLength="17.4" lengthAdjust="spacingAndGlyphs" transform="rotate(0.05 381.80 508.95)" >Oscillospira</text>
<rect x="450.20" y="510.09" width="40.30" height="2.90" fill="#4e1468" />
<line x1="385.00" y1="511.54" x2="388.10" y2="511.54" stroke="#111" stroke-width="0.9" />
<text x="381.80" y="512.73" font-size="3.4" fill="#555" text-anchor="end" textLength="36.8" lengthAdjust="spacingAndGlyphs" transform="rotate(0.05 381.80 512.73)" >Lachnospiraceae Family</text>
<rect x="450.20" y="513.87" width="39.80" height="2.90" fill="#4e1468" />
<line x1="385.00" y1="515.32" x2="388.10" y2="515.32" stroke="#111" stroke-width="0.9" />
<text x="381.80" y="516.51" font-size="3.4" fill="#555" text-anchor="end" textLength="19.3" lengthAdjust="spacingAndGlyphs" transform="rotate(0.05 381.80 516.51)" >Anaerovorax</text>
<rect x="450.20" y="517.65" width="39.30" height="2.90" fill="#4e1468" />
<line x1="385.00" y1="519.10" x2="388.10" y2="519.10" stroke="#111" stroke-width="0.9" />
<text x="381.80" y="520.29" font-size="3.4" fill="#555" text-anchor="end" textLength="15.8" lengthAdjust="spacingAndGlyphs" transform="rotate(0.05 381.80 520.29)" >Dubosiella</text>
<rect x="450.20" y="521.43" width="38.50" height="2.90" fill="#4e1468" />
<line x1="385.00" y1="522.88" x2="388.10" y2="522.88" stroke="#111" stroke-width="0.9" />
<text x="381.80" y="524.07" font-size="3.4" fill="#555" text-anchor="end" textLength="19.3" lengthAdjust="spacingAndGlyphs" transform="rotate(0.05 381.80 524.07)" >Muribaculum</text>
<rect x="450.20" y="525.21" width="37.60" height="2.90" fill="#4e1468" />
<line x1="385.00" y1="526.66" x2="388.10" y2="526.66" stroke="#111" stroke-width="0.9" />
<text x="381.80" y="527.85" font-size="3.4" fill="#555" text-anchor="end" textLength="23.5" lengthAdjust="spacingAndGlyphs" transform="rotate(0.05 381.80 527.85)" >Carboxydocella</text>
<rect x="450.20" y="528.99" width="37.20" height="2.90" fill="#4e1468" />
<line x1="385.00" y1="530.44" x2="388.10" y2="530.44" stroke="#111" stroke-width="0.9" />
<text x="381.80" y="531.63" font-size="3.4" fill="#555" text-anchor="end" textLength="12.0" lengthAdjust="spacingAndGlyphs" transform="rotate(0.05 381.80 531.63)" >Proteus</text>
<rect x="450.20" y="532.77" width="36.90" height="2.90" fill="#4e1468" />
<line x1="385.00" y1="534.22" x2="388.10" y2="534.22" stroke="#111" stroke-width="0.9" />
<text x="381.80" y="535.41" font-size="3.4" fill="#555" text-anchor="end" textLength="22.0" lengthAdjust="spacingAndGlyphs" transform="rotate(0.05 381.80 535.41)" >Anaeroplasma</text>
<rect x="450.20" y="536.55" width="36.20" height="2.90" fill="#4e1468" />
<line x1="385.00" y1="538.00" x2="388.10" y2="538.00" stroke="#111" stroke-width="0.9" />
<text x="381.80" y="539.19" font-size="3.4" fill="#555" text-anchor="end" textLength="23.9" lengthAdjust="spacingAndGlyphs" transform="rotate(0.05 381.80 539.19)" >Ligilactobacillus</text>
<rect x="450.20" y="540.33" width="35.80" height="2.90" fill="#4e1468" />
<line x1="385.00" y1="541.78" x2="388.10" y2="541.78" stroke="#111" stroke-width="0.9" />
<text x="381.80" y="542.97" font-size="3.4" fill="#555" text-anchor="end" textLength="35.9" lengthAdjust="spacingAndGlyphs" transform="rotate(0.05 381.80 542.97)" >Oscillospiraceae Family</text>
<rect x="450.20" y="544.11" width="35.60" height="2.90" fill="#4e1468" />
<line x1="385.00" y1="545.56" x2="388.10" y2="545.56" stroke="#111" stroke-width="0.9" />
<text x="381.80" y="546.75" font-size="3.4" fill="#555" text-anchor="end" textLength="18.9" lengthAdjust="spacingAndGlyphs" transform="rotate(0.05 381.80 546.75)" >Anaerofustis</text>
<rect x="450.20" y="547.89" width="33.50" height="2.90" fill="#4e1468" />
<line x1="385.00" y1="549.34" x2="388.10" y2="549.34" stroke="#111" stroke-width="0.9" />
<text x="381.80" y="550.53" font-size="3.4" fill="#555" text-anchor="end" textLength="17.4" lengthAdjust="spacingAndGlyphs" transform="rotate(0.05 381.80 550.53)" >Alkalibacter</text>
<rect x="450.20" y="551.67" width="31.80" height="2.90" fill="#4e1468" />
<line x1="385.00" y1="553.12" x2="388.10" y2="553.12" stroke="#111" stroke-width="0.9" />
<text x="381.80" y="554.31" font-size="3.4" fill="#555" text-anchor="end" textLength="15.5" lengthAdjust="spacingAndGlyphs" transform="rotate(0.05 381.80 554.31)" >Roseburia</text>
<rect x="450.20" y="555.45" width="30.80" height="2.90" fill="#4e1468" />
<line x1="385.00" y1="556.90" x2="388.10" y2="556.90" stroke="#111" stroke-width="0.9" />
<text x="381.80" y="558.09" font-size="3.4" fill="#555" text-anchor="end" textLength="10.0" lengthAdjust="spacingAndGlyphs" transform="rotate(0.05 381.80 558.09)" >Hafnia</text>
<rect x="450.20" y="559.23" width="27.50" height="2.90" fill="#4e1468" />
<line x1="385.00" y1="560.68" x2="388.10" y2="560.68" stroke="#111" stroke-width="0.9" />
<text x="381.80" y="561.87" font-size="3.4" fill="#555" text-anchor="end" textLength="8.9" lengthAdjust="spacingAndGlyphs" transform="rotate(0.05 381.80 561.87)" >Dorea</text>
<rect x="450.20" y="563.01" width="27.30" height="2.90" fill="#4e1468" />
<line x1="385.00" y1="564.46" x2="388.10" y2="564.46" stroke="#111" stroke-width="0.9" />
<text x="381.80" y="565.65" font-size="3.4" fill="#555" text-anchor="end" textLength="24.1" lengthAdjust="spacingAndGlyphs" transform="rotate(0.05 381.80 565.65)" >Acetitomaculum</text>
<rect x="450.20" y="566.79" width="24.90" height="2.90" fill="#4e1468" />
<line x1="385.00" y1="568.24" x2="388.10" y2="568.24" stroke="#111" stroke-width="0.9" />
<text x="381.80" y="569.43" font-size="3.4" fill="#555" text-anchor="end" textLength="25.5" lengthAdjust="spacingAndGlyphs" transform="rotate(0.05 381.80 569.43)" >Anaerobutyricum</text>
<rect x="450.20" y="570.57" width="23.10" height="2.90" fill="#4e1468" />
<line x1="385.00" y1="572.02" x2="388.10" y2="572.02" stroke="#111" stroke-width="0.9" />
<text x="381.80" y="573.21" font-size="3.4" fill="#555" text-anchor="end" textLength="21.2" lengthAdjust="spacingAndGlyphs" transform="rotate(0.05 381.80 573.21)" >Anaerotignum</text>
<rect x="450.20" y="574.35" width="22.60" height="2.90" fill="#4e1468" />
<line x1="385.00" y1="575.80" x2="388.10" y2="575.80" stroke="#111" stroke-width="0.9" />
<text x="381.80" y="576.99" font-size="3.4" fill="#555" text-anchor="end" textLength="23.5" lengthAdjust="spacingAndGlyphs" transform="rotate(0.05 381.80 576.99)" >Carboxydocella</text>
<rect x="450.20" y="578.13" width="14.80" height="2.90" fill="#4e1468" />
<line x1="385.00" y1="579.58" x2="388.10" y2="579.58" stroke="#111" stroke-width="0.9" />
<text x="381.80" y="580.77" font-size="3.4" fill="#555" text-anchor="end" textLength="19.7" lengthAdjust="spacingAndGlyphs" transform="rotate(0.05 381.80 580.77)" >Lactobacillus</text>
<rect x="450.20" y="581.91" width="14.20" height="2.90" fill="#4e1468" />
<line x1="385.00" y1="583.36" x2="388.10" y2="583.36" stroke="#111" stroke-width="0.9" />
<text x="381.80" y="584.55" font-size="3.4" fill="#555" text-anchor="end" textLength="16.8" lengthAdjust="spacingAndGlyphs" transform="rotate(0.05 381.80 584.55)" >Oscillatoria</text>
<rect x="450.20" y="585.69" width="13.40" height="2.90" fill="#4e1468" />
<line x1="385.00" y1="587.14" x2="388.10" y2="587.14" stroke="#111" stroke-width="0.9" />
<text x="381.80" y="588.33" font-size="3.4" fill="#555" text-anchor="end" textLength="18.6" lengthAdjust="spacingAndGlyphs" transform="rotate(0.05 381.80 588.33)" >Phocaeicola</text>
<rect x="450.20" y="589.47" width="12.70" height="2.90" fill="#4e1468" />
<line x1="385.00" y1="590.92" x2="388.10" y2="590.92" stroke="#111" stroke-width="0.9" />
<text x="381.80" y="592.11" font-size="3.4" fill="#555" text-anchor="end" textLength="21.0" lengthAdjust="spacingAndGlyphs" transform="rotate(0.05 381.80 592.11)" >Parasutterella</text>
<rect x="450.20" y="593.25" width="9.90" height="2.90" fill="#4e1468" />
<line x1="385.00" y1="594.70" x2="388.10" y2="594.70" stroke="#111" stroke-width="0.9" />
<text x="381.80" y="595.89" font-size="3.4" fill="#555" text-anchor="end" textLength="26.9" lengthAdjust="spacingAndGlyphs" transform="rotate(0.05 381.80 595.89)" >Ruminiclostridium</text>
<rect x="429.70" y="597.03" width="20.50" height="2.90" fill="#d07c20" />
<line x1="385.00" y1="598.48" x2="388.10" y2="598.48" stroke="#111" stroke-width="0.9" />
<text x="381.80" y="599.67" font-size="3.4" fill="#555" text-anchor="end" textLength="17.4" lengthAdjust="spacingAndGlyphs" transform="rotate(0.05 381.80 599.67)" >Endobacter</text>
<rect x="425.10" y="600.81" width="25.10" height="2.90" fill="#d07c20" />
<line x1="385.00" y1="602.26" x2="388.10" y2="602.26" stroke="#111" stroke-width="0.9" />
<text x="381.80" y="603.45" font-size="3.4" fill="#555" text-anchor="end" textLength="10.9" lengthAdjust="spacingAndGlyphs" transform="rotate(0.05 381.80 603.45)" >Kurthia</text>
<rect x="421.30" y="604.59" width="28.90" height="2.90" fill="#d07c20" />
<line x1="385.00" y1="606.04" x2="388.10" y2="606.04" stroke="#111" stroke-width="0.9" />
<text x="381.80" y="607.23" font-size="3.4" fill="#555" text-anchor="end" textLength="24.5" lengthAdjust="spacingAndGlyphs" transform="rotate(0.05 381.80 607.23)" >Catenibacterium</text>
<rect x="418.90" y="608.37" width="31.30" height="2.90" fill="#d07c20" />
<line x1="385.00" y1="609.82" x2="388.10" y2="609.82" stroke="#111" stroke-width="0.9" />
<text x="381.80" y="611.01" font-size="3.4" fill="#555" text-anchor="end" textLength="21.6" lengthAdjust="spacingAndGlyphs" transform="rotate(0.05 381.80 611.01)" >Gordonibacter</text>
<rect x="418.60" y="612.15" width="31.60" height="2.90" fill="#d07c20" />
<line x1="385.00" y1="613.60" x2="388.10" y2="613.60" stroke="#111" stroke-width="0.9" />
<text x="381.80" y="614.79" font-size="3.4" fill="#555" text-anchor="end" textLength="30.7" lengthAdjust="spacingAndGlyphs" transform="rotate(0.05 381.80 614.79)" >Bacteroidales Order</text>
<rect x="414.30" y="615.93" width="35.90" height="2.90" fill="#d07c20" />
<line x1="385.00" y1="617.38" x2="388.10" y2="617.38" stroke="#111" stroke-width="0.9" />
<text x="381.80" y="618.57" font-size="3.4" fill="#555" text-anchor="end" textLength="15.3" lengthAdjust="spacingAndGlyphs" transform="rotate(0.05 381.80 618.57)" >Tyzzerella</text>
<rect x="411.20" y="619.71" width="39.00" height="2.90" fill="#d07c20" />
<line x1="385.00" y1="621.16" x2="388.10" y2="621.16" stroke="#111" stroke-width="0.9" />
<text x="381.80" y="622.35" font-size="3.4" fill="#555" text-anchor="end" textLength="16.8" lengthAdjust="spacingAndGlyphs" transform="rotate(0.05 381.80 622.35)" >Sellimonas</text>
<rect x="409.50" y="623.49" width="40.70" height="2.90" fill="#d07c20" />
<line x1="385.00" y1="624.94" x2="388.10" y2="624.94" stroke="#111" stroke-width="0.9" />
<text x="381.80" y="626.13" font-size="3.4" fill="#555" text-anchor="end" textLength="27.1" lengthAdjust="spacingAndGlyphs" transform="rotate(0.05 381.80 626.13)" >Prevotellamassilia</text>
<rect x="409.20" y="627.27" width="41.00" height="2.90" fill="#d07c20" />
<line x1="385.00" y1="628.72" x2="388.10" y2="628.72" stroke="#111" stroke-width="0.9" />
<text x="381.80" y="629.91" font-size="3.4" fill="#555" text-anchor="end" textLength="22.7" lengthAdjust="spacingAndGlyphs" transform="rotate(0.05 381.80 629.91)" >Pygmaiobacter</text>
<rect x="404.50" y="631.05" width="45.70" height="2.90" fill="#d07c20" />
<line x1="385.00" y1="632.50" x2="388.10" y2="632.50" stroke="#111" stroke-width="0.9" />
<text x="381.80" y="633.69" font-size="3.4" fill="#555" text-anchor="end" textLength="18.0" lengthAdjust="spacingAndGlyphs" transform="rotate(0.05 381.80 633.69)" >Bacteroides</text>
<rect x="401.40" y="634.83" width="48.80" height="2.90" fill="#d07c20" />
<line x1="385.00" y1="636.28" x2="388.10" y2="636.28" stroke="#111" stroke-width="0.9" />
<text x="381.80" y="637.47" font-size="3.4" fill="#555" text-anchor="end" textLength="24.5" lengthAdjust="spacingAndGlyphs" transform="rotate(0.05 381.80 637.47)" >Parabacteroides</text>
<rect x="400.90" y="638.61" width="49.30" height="2.90" fill="#d07c20" />
<line x1="385.00" y1="640.06" x2="388.10" y2="640.06" stroke="#111" stroke-width="0.9" />
<text x="381.80" y="641.25" font-size="3.4" fill="#555" text-anchor="end" textLength="18.0" lengthAdjust="spacingAndGlyphs" transform="rotate(0.05 381.80 641.25)" >Romboutsia</text>
<rect x="400.50" y="642.39" width="49.70" height="2.90" fill="#d07c20" />
<line x1="385.00" y1="643.84" x2="388.10" y2="643.84" stroke="#111" stroke-width="0.9" />
<text x="381.80" y="645.03" font-size="3.4" fill="#555" text-anchor="end" textLength="15.0" lengthAdjust="spacingAndGlyphs" transform="rotate(0.05 381.80 645.03)" >Kineothrix</text>
<rect x="400.20" y="646.17" width="50.00" height="2.90" fill="#d07c20" />
<line x1="385.00" y1="647.62" x2="388.10" y2="647.62" stroke="#111" stroke-width="0.9" />
<text x="381.80" y="648.81" font-size="3.4" fill="#555" text-anchor="end" textLength="35.2" lengthAdjust="spacingAndGlyphs" transform="rotate(0.05 381.80 648.81)" >Rhodobacterales Order</text>
<rect x="394.20" y="649.95" width="56.00" height="2.90" fill="#d07c20" />
<line x1="385.00" y1="651.40" x2="388.10" y2="651.40" stroke="#111" stroke-width="0.9" />
<text x="381.80" y="652.59" font-size="3.4" fill="#555" text-anchor="end" textLength="14.4" lengthAdjust="spacingAndGlyphs" transform="rotate(0.05 381.80 652.59)" >Lawsonia</text>
<rect x="393.70" y="653.73" width="56.50" height="2.90" fill="#d07c20" />
<line x1="385.00" y1="655.18" x2="388.10" y2="655.18" stroke="#111" stroke-width="0.9" />
<text x="381.80" y="656.37" font-size="3.4" fill="#555" text-anchor="end" textLength="10.9" lengthAdjust="spacingAndGlyphs" transform="rotate(0.05 381.80 656.37)" >Kurthia</text>
<rect x="388.40" y="657.51" width="61.80" height="2.90" fill="#d07c20" />
<line x1="385.00" y1="658.96" x2="388.10" y2="658.96" stroke="#111" stroke-width="0.9" />
<text x="381.80" y="660.15" font-size="3.4" fill="#555" text-anchor="end" textLength="10.9" lengthAdjust="spacingAndGlyphs" transform="rotate(0.05 381.80 660.15)" >Hallella</text>
<line x1="388.10" y1="459.50" x2="388.10" y2="661.70" stroke="#222" stroke-width="1.1" />
<line x1="387.60" y1="661.20" x2="504.00" y2="661.20" stroke="#222" stroke-width="1.1" />
<line x1="393.40" y1="661.20" x2="393.40" y2="663.70" stroke="#222" stroke-width="0.9" />
<text x="393.40" y="674.30" font-size="6.2" fill="#444" text-anchor="middle" textLength="4.69" lengthAdjust="spacingAndGlyphs" transform="rotate(0.05 393.40 674.30)" >-4</text>
<line x1="421.60" y1="661.20" x2="421.60" y2="663.70" stroke="#222" stroke-width="0.9" />
<text x="421.60" y="674.30" font-size="6.2" fill="#444" text-anchor="middle" textLength="4.69" lengthAdjust="spacingAndGlyphs" transform="rotate(0.05 421.60 674.30)" >-2</text>
<line x1="450.00" y1="661.20" x2="450.00" y2="663.70" stroke="#222" stroke-width="0.9" />
<text x="450.00" y="674.30" font-size="6.2" fill="#444" text-anchor="middle" textLength="2.93" lengthAdjust="spacingAndGlyphs" transform="rotate(0.05 450.00 674.30)" >0</text>
<line x1="478.20" y1="661.20" x2="478.20" y2="663.70" stroke="#222" stroke-width="0.9" />
<text x="478.20" y="674.30" font-size="6.2" fill="#444" text-anchor="middle" textLength="2.93" lengthAdjust="spacingAndGlyphs" transform="rotate(0.05 478.20 674.30)" >2</text>
<text x="444.00" y="684.20" font-size="7.8" fill="#3a3a3a" text-anchor="middle" textLength="48" lengthAdjust="spacingAndGlyphs" transform="rotate(0.05 444.00 684.20)" >log10 fold change</text>
<text x="336.30" y="560.40" font-size="7.6" fill="#444" text-anchor="middle" textLength="20" lengthAdjust="spacingAndGlyphs" transform="rotate(-90 336.30 560.40)" >Genera</text>
<text x="456.00" y="635.20" font-size="6" fill="#444" text-anchor="start" textLength="37.3" lengthAdjust="spacingAndGlyphs" transform="rotate(0.05 456.00 635.20)" >Enriched group</text>
<rect x="456.00" y="639.50" width="6.10" height="5.40" fill="#5a1a73" />
<rect x="456.00" y="648.90" width="6.10" height="5.40" fill="#c27a22" />
<text x="464.80" y="644.20" font-size="5.8" fill="#444" text-anchor="start" transform="rotate(0.05 464.80 644.20)" >p47<tspan font-size="4.0" dy="-2.6">phox−/−</tspan><tspan dy="2.6"> (IRCM)</tspan></text>
<text x="464.80" y="653.60" font-size="5.8" fill="#444" text-anchor="start" transform="rotate(0.05 464.80 653.60)" >gp91<tspan font-size="4.0" dy="-2.6">phox−/−</tspan><tspan dy="2.6"> (IRCM)</tspan></text>
<path d="M0.5 691V0.5H519" fill="none" stroke="#5a5a5a" stroke-width="1"/>
<path d="M519.5 0V691.5H0" fill="none" stroke="#3a3a3a" stroke-width="1"/>
</svg>
</body></html>
